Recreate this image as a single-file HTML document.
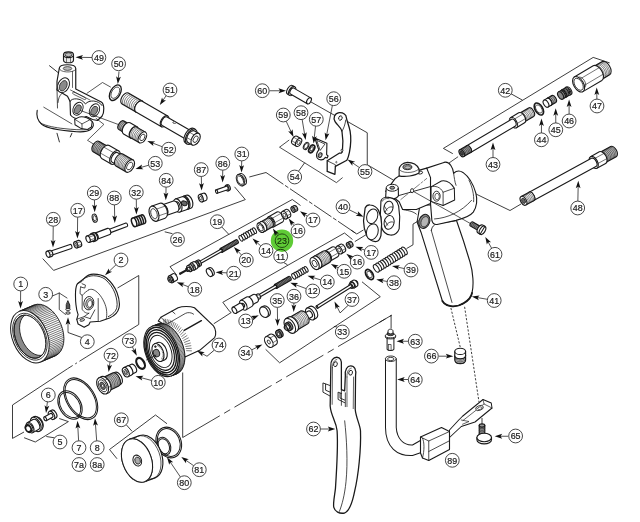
<!DOCTYPE html>
<html><head><meta charset="utf-8"><title>Spray gun exploded parts diagram</title>
<style>
html,body{margin:0;padding:0;background:#fff;}
body{width:640px;height:522px;overflow:hidden;}
svg{display:block;}
svg text{font-family:"Liberation Sans",Arial,sans-serif;font-size:9.4px;fill:#1a1a1a;text-anchor:middle;stroke:#1a1a1a;stroke-width:0.2px;}
</style></head><body>
<svg width="640" height="522" viewBox="0 0 640 522">
<rect width="640" height="522" fill="#fff"/>
<g style="filter:blur(0.35px)">
<path d="M37.2 110.3 C36 116 38 121 42 124.5 C48 129 60 130.5 76.6 131.7 C84 132.2 88 131.5 90.5 129.5 C93.5 127 94.5 124 92.2 121.6" fill="none" stroke="#1a1a1a" stroke-width="1.12" stroke-linejoin="round" stroke-linecap="round" />
<path d="M40.6 123.1 C46 126 56 127.8 64 128.6 C72 129.5 82 130.3 88.5 129.5" fill="none" stroke="#1a1a1a" stroke-width="0.78" stroke-linejoin="round" stroke-linecap="round" />
<path d="M43.75 107.2 L71.9 123.9" fill="none" stroke="#1a1a1a" stroke-width="0.73" stroke-linejoin="round" stroke-linecap="round" />
<path d="M57 133.3 L59.4 141.9 M71.9 133.3 L70.3 136.9" fill="none" stroke="#1a1a1a" stroke-width="0.9" stroke-linejoin="round" stroke-linecap="round" />
<path d="M 57 89 L 57.5 108 M 61.75 93.5 C 59.5 95.5 58.25 98.75 58 102.5" fill="none" stroke="#1a1a1a" stroke-width="0.78" stroke-linejoin="round" stroke-linecap="round" />
<path d="M 49.5 65.75 L 60.5 74.5" fill="none" stroke="#1a1a1a" stroke-width="0.9" stroke-linejoin="round" stroke-linecap="round" />
<path d="M 59.25 68.5 C 59.25 63.5 75.75 63.5 75.75 68.5 L 75.75 89 L 101.25 102 C 104.5 104 104.5 112.5 102 116.25 L 97.5 120.5 L 92.5 119.5 L 86.25 116.5 C 82.5 120 74 119.5 70.5 115 L 70 101.25 L 67.5 96.25 L 57 90 L 57 81.25 Z" fill="#fff" stroke="#1a1a1a" stroke-width="1.18" stroke-linejoin="round" stroke-linecap="round" />
<path d="M 59.25 68.5 C 59.5 72.5 72.5 73.5 75.75 69.5" fill="none" stroke="#1a1a1a" stroke-width="0.67" stroke-linejoin="round" stroke-linecap="round" />
<ellipse cx="67.5" cy="68.5" rx="4.25" ry="1.88" transform="rotate(0 67.5 68.5)" fill="#bbb" stroke="#1a1a1a" stroke-width="0.7"/>
<path d="M 72.5 71.5 L 72.5 87.5" fill="none" stroke="#1a1a1a" stroke-width="0.67" stroke-linejoin="round" stroke-linecap="round" />
<ellipse cx="63.5" cy="85.25" rx="5.5" ry="7.75" transform="rotate(26 63.5 85.25)" fill="#fff" stroke="#1a1a1a" stroke-width="1.0"/>
<ellipse cx="63.25" cy="85.75" rx="3.5" ry="5.5" transform="rotate(26 63.25 85.75)" fill="#8a8a8a" stroke="#1a1a1a" stroke-width="0.7"/>
<path d="M 70.5 90 L 90 100" fill="none" stroke="#1a1a1a" stroke-width="0.67" stroke-linejoin="round" stroke-linecap="round" />
<path d="M 74 92 L 85 97.5 C 86.5 98.5 86 100 84.25 99.5 L 73.5 94.25 C 72 93.25 72.5 91.5 74 92 Z" fill="none" stroke="#1a1a1a" stroke-width="0.67" stroke-linejoin="round" stroke-linecap="round" />
<path d="M 70 101.5 C 71.25 97.5 81.25 97.5 85.5 104 C 88.75 99.5 98.75 100 102 105.5" fill="none" stroke="#1a1a1a" stroke-width="0.95" stroke-linejoin="round" stroke-linecap="round" />
<ellipse cx="78" cy="108.75" rx="4.75" ry="6.75" transform="rotate(26 78 108.75)" fill="#fff" stroke="#1a1a1a" stroke-width="0.9"/>
<ellipse cx="77.75" cy="109.25" rx="3" ry="4.75" transform="rotate(26 77.75 109.25)" fill="#8a8a8a" stroke="#1a1a1a" stroke-width="0.7"/>
<ellipse cx="94.5" cy="110.25" rx="4.75" ry="6.75" transform="rotate(26 94.5 110.25)" fill="#fff" stroke="#1a1a1a" stroke-width="0.9"/>
<ellipse cx="94.25" cy="110.75" rx="3" ry="4.75" transform="rotate(26 94.25 110.75)" fill="#8a8a8a" stroke="#1a1a1a" stroke-width="0.7"/>
<path d="M74.7 119.2 L79.7 116.9 C84 116 90 118.5 92.2 121.6 L91.4 127 L87.5 129.4 L81.25 128.6 L75 124.7 Z" fill="#fff" stroke="#1a1a1a" stroke-width="1.01" stroke-linejoin="round" stroke-linecap="round" />
<path d="M74.7 119.2 L82 123.9 L82 128.6 M82 123.9 L89.5 120" fill="none" stroke="#1a1a1a" stroke-width="0.73" stroke-linejoin="round" stroke-linecap="round" />
<path d="M 87 93.25 L 102.5 82.5 L 110.5 87" fill="none" stroke="#1a1a1a" stroke-width="0.73" stroke-linejoin="round" stroke-linecap="round" />
<path d="M80.5 110.5 L120.5 125.3" fill="none" stroke="#1a1a1a" stroke-width="0.73" stroke-linejoin="round" stroke-linecap="round" />
<path d="M96.1 118.4 L103.9 124.4 L87.5 140.3 L95 145" fill="none" stroke="#1a1a1a" stroke-width="0.73" stroke-linejoin="round" stroke-linecap="round" />
<path d="M63.5 54.7L63.5 59.9A2.88 5 90 0 0 73.5 59.9L73.5 54.7Z" fill="#ececec" stroke="#1a1a1a" stroke-width="1.12" stroke-linejoin="round"/>
<ellipse cx="68.5" cy="54.7" rx="2.88" ry="5" transform="rotate(90 68.5 54.7)" fill="#ececec" stroke="#1a1a1a" stroke-width="1.12"/>
<ellipse cx="68.5" cy="54.7" rx="1.96" ry="3.4" transform="rotate(90 68.5 54.7)" fill="#bdbdbd" stroke="#1a1a1a" stroke-width="0.78"/>
<path d="M66.5 58L66.5 62.5" fill="none" stroke="#1a1a1a" stroke-width="0.56" stroke-linejoin="round"/>
<path d="M70.5 58L70.5 62.5" fill="none" stroke="#1a1a1a" stroke-width="0.56" stroke-linejoin="round"/>
<path d="M92.3 57.5L80.75 57.36" stroke="#1a1a1a" stroke-width="0.75" fill="none"/>
<path d="M75.5 57.3L83.03 54.99L81.35 57.37L82.97 59.79Z" fill="#111"/>
<ellipse cx="115.3" cy="92.7" rx="4.9" ry="8.5" transform="rotate(30 115.3 92.7)" fill="none" stroke="#1a1a1a" stroke-width="1.34"/>
<ellipse cx="115.3" cy="92.7" rx="3.58" ry="6.2" transform="rotate(30 115.3 92.7)" fill="none" stroke="#1a1a1a" stroke-width="0.67"/>
<path d="M119 71.5L118.3 78.77" stroke="#1a1a1a" stroke-width="0.75" fill="none"/>
<path d="M117.8 84L116.13 76.3L118.36 78.18L120.91 76.76Z" fill="#111"/>
<path d="M142.2 101.09L128.34 93.09A3.64 6.3 -150 0 0 122.04 104.01L135.9 112.01Z" fill="#fff" stroke="#1a1a1a" stroke-width="1.12" stroke-linejoin="round"/>
<path d="M142.2 101.09A3.64 6.3 -150 0 0 135.9 112.01" fill="none" stroke="#1a1a1a" stroke-width="0.56"/>
<path d="M140.47 100.09A3.64 6.3 -150 0 0 134.17 111.01" fill="none" stroke="#1a1a1a" stroke-width="0.56"/>
<path d="M138.73 99.09A3.64 6.3 -150 0 0 132.43 110.01" fill="none" stroke="#1a1a1a" stroke-width="0.56"/>
<path d="M137 98.09A3.64 6.3 -150 0 0 130.7 109.01" fill="none" stroke="#1a1a1a" stroke-width="0.56"/>
<path d="M135.27 97.09A3.64 6.3 -150 0 0 128.97 108.01" fill="none" stroke="#1a1a1a" stroke-width="0.56"/>
<path d="M133.54 96.09A3.64 6.3 -150 0 0 127.24 107.01" fill="none" stroke="#1a1a1a" stroke-width="0.56"/>
<path d="M131.81 95.09A3.64 6.3 -150 0 0 125.51 106.01" fill="none" stroke="#1a1a1a" stroke-width="0.56"/>
<path d="M130.07 94.09A3.64 6.3 -150 0 0 123.77 105.01" fill="none" stroke="#1a1a1a" stroke-width="0.56"/>
<ellipse cx="139.05" cy="106.55" rx="3.64" ry="6.3" transform="rotate(-150 139.05 106.55)" fill="#fff" stroke="#1a1a1a" stroke-width="1.12"/>
<path d="M167.7 115.93L142.15 101.18A3.58 6.2 -150 0 0 135.95 111.92L161.5 126.67Z" fill="#fff" stroke="#1a1a1a" stroke-width="1.12" stroke-linejoin="round"/>
<ellipse cx="164.6" cy="121.3" rx="3.58" ry="6.2" transform="rotate(-150 164.6 121.3)" fill="#fff" stroke="#1a1a1a" stroke-width="1.12"/>
<path d="M192.16 131.56L167.05 117.06A2.83 4.9 -150 0 0 162.15 125.54L187.26 140.04Z" fill="#fff" stroke="#1a1a1a" stroke-width="1.12" stroke-linejoin="round"/>
<ellipse cx="189.71" cy="135.8" rx="2.83" ry="4.9" transform="rotate(-150 189.71 135.8)" fill="#fff" stroke="#1a1a1a" stroke-width="1.12"/>
<path d="M195.47 129.43L193.91 128.53A4.85 8.4 -150 0 0 185.51 143.07L187.07 143.97Z" fill="#fff" stroke="#1a1a1a" stroke-width="1.12" stroke-linejoin="round"/>
<ellipse cx="191.27" cy="136.7" rx="4.85" ry="8.4" transform="rotate(-150 191.27 136.7)" fill="#fff" stroke="#1a1a1a" stroke-width="1.12"/>
<path d="M198.9 133.48L194.57 130.98A3.81 6.6 -150 0 0 187.97 142.42L192.3 144.92Z" fill="#fff" stroke="#1a1a1a" stroke-width="1.12" stroke-linejoin="round"/>
<path d="M191.31 140.15L186.98 137.65" stroke="#1a1a1a" stroke-width="0.6" fill="none"/>
<path d="M194.28 135.01L189.95 132.51" stroke="#1a1a1a" stroke-width="0.6" fill="none"/>
<ellipse cx="195.6" cy="139.2" rx="3.81" ry="6.6" transform="rotate(-150 195.6 139.2)" fill="#fff" stroke="#1a1a1a" stroke-width="1.12"/>
<ellipse cx="195.6" cy="139.2" rx="2.08" ry="3.6" transform="rotate(-150 195.6 139.2)" fill="#fff" stroke="#1a1a1a" stroke-width="0.78"/>
<ellipse cx="174.5" cy="122.5" rx="0.92" ry="1.6" transform="rotate(-90 174.5 122.5)" fill="#fff" stroke="#1a1a1a" stroke-width="0.78"/>
<path d="M166.18 95.62L162.75 100.66" stroke="#1a1a1a" stroke-width="0.75" fill="none"/>
<path d="M159.8 105L162.03 97.45L163.09 100.16L166 100.15Z" fill="#111"/>
<path d="M129.31 124.07L123.94 120.97A2.88 5 -150 0 0 118.94 129.63L124.31 132.73Z" fill="#bbb" stroke="#1a1a1a" stroke-width="1.12" stroke-linejoin="round"/>
<path d="M129.31 124.07A2.88 5 -150 0 0 124.31 132.73" fill="none" stroke="#1a1a1a" stroke-width="0.56"/>
<path d="M127.97 123.29A2.88 5 -150 0 0 122.97 131.96" fill="none" stroke="#1a1a1a" stroke-width="0.56"/>
<path d="M126.63 122.52A2.88 5 -150 0 0 121.63 131.18" fill="none" stroke="#1a1a1a" stroke-width="0.56"/>
<path d="M125.28 121.74A2.88 5 -150 0 0 120.28 130.41" fill="none" stroke="#1a1a1a" stroke-width="0.56"/>
<ellipse cx="126.81" cy="128.4" rx="2.88" ry="5" transform="rotate(-150 126.81 128.4)" fill="#bbb" stroke="#1a1a1a" stroke-width="1.12"/>
<path d="M136.99 126.77L130.06 122.77A3.75 6.5 -150 0 0 123.56 134.03L130.49 138.03Z" fill="#fff" stroke="#1a1a1a" stroke-width="1.12" stroke-linejoin="round"/>
<ellipse cx="133.74" cy="132.4" rx="3.75" ry="6.5" transform="rotate(-150 133.74 132.4)" fill="#fff" stroke="#1a1a1a" stroke-width="1.12"/>
<path d="M145.45 132.12L136.79 127.12A3.52 6.1 -150 0 0 130.69 137.68L139.35 142.68Z" fill="#fff" stroke="#1a1a1a" stroke-width="1.12" stroke-linejoin="round"/>
<path d="M145.45 132.12A3.52 6.1 -150 0 0 139.35 142.68" fill="none" stroke="#1a1a1a" stroke-width="0.56"/>
<path d="M144.01 131.28A3.52 6.1 -150 0 0 137.91 141.85" fill="none" stroke="#1a1a1a" stroke-width="0.56"/>
<path d="M142.56 130.45A3.52 6.1 -150 0 0 136.46 141.02" fill="none" stroke="#1a1a1a" stroke-width="0.56"/>
<path d="M141.12 129.62A3.52 6.1 -150 0 0 135.02 140.18" fill="none" stroke="#1a1a1a" stroke-width="0.56"/>
<path d="M139.68 128.78A3.52 6.1 -150 0 0 133.58 139.35" fill="none" stroke="#1a1a1a" stroke-width="0.56"/>
<path d="M138.23 127.95A3.52 6.1 -150 0 0 132.13 138.52" fill="none" stroke="#1a1a1a" stroke-width="0.56"/>
<ellipse cx="142.4" cy="137.4" rx="3.52" ry="6.1" transform="rotate(-150 142.4 137.4)" fill="#fff" stroke="#1a1a1a" stroke-width="1.12"/>
<ellipse cx="142.4" cy="137.4" rx="2.08" ry="3.6" transform="rotate(-150 142.4 137.4)" fill="#fff" stroke="#1a1a1a" stroke-width="0.78"/>
<path d="M162.35 146.77L152.2 142.88" stroke="#1a1a1a" stroke-width="0.75" fill="none"/>
<path d="M147.3 141L155.16 141.44L152.76 143.09L153.44 145.92Z" fill="#111"/>
<path d="M108.45 146.8L99.1 141.4A3.46 6 -150 0 0 93.1 151.8L102.45 157.2Z" fill="#bbb" stroke="#1a1a1a" stroke-width="1.12" stroke-linejoin="round"/>
<path d="M108.45 146.8A3.46 6 -150 0 0 102.45 157.2" fill="none" stroke="#1a1a1a" stroke-width="0.56"/>
<path d="M107.12 146.03A3.46 6 -150 0 0 101.12 156.42" fill="none" stroke="#1a1a1a" stroke-width="0.56"/>
<path d="M105.78 145.26A3.46 6 -150 0 0 99.78 155.65" fill="none" stroke="#1a1a1a" stroke-width="0.56"/>
<path d="M104.44 144.49A3.46 6 -150 0 0 98.44 154.88" fill="none" stroke="#1a1a1a" stroke-width="0.56"/>
<path d="M103.11 143.72A3.46 6 -150 0 0 97.11 154.11" fill="none" stroke="#1a1a1a" stroke-width="0.56"/>
<path d="M101.77 142.95A3.46 6 -150 0 0 95.77 153.34" fill="none" stroke="#1a1a1a" stroke-width="0.56"/>
<path d="M100.43 142.18A3.46 6 -150 0 0 94.43 152.57" fill="none" stroke="#1a1a1a" stroke-width="0.56"/>
<ellipse cx="105.45" cy="152" rx="3.46" ry="6" transform="rotate(-150 105.45 152)" fill="#bbb" stroke="#1a1a1a" stroke-width="1.12"/>
<path d="M118.78 150.92L109.25 145.42A4.39 7.6 -150 0 0 101.65 158.58L111.18 164.08Z" fill="#fff" stroke="#1a1a1a" stroke-width="1.12" stroke-linejoin="round"/>
<path d="M110.04 158.6L100.51 153.1" stroke="#1a1a1a" stroke-width="0.6" fill="none"/>
<path d="M113.46 152.67L103.93 147.17" stroke="#1a1a1a" stroke-width="0.6" fill="none"/>
<ellipse cx="114.98" cy="157.5" rx="4.39" ry="7.6" transform="rotate(-150 114.98 157.5)" fill="#fff" stroke="#1a1a1a" stroke-width="1.12"/>
<path d="M122.06 155.24L117.73 152.74A3.17 5.5 -150 0 0 112.23 162.26L116.56 164.76Z" fill="#fff" stroke="#1a1a1a" stroke-width="1.12" stroke-linejoin="round"/>
<ellipse cx="119.31" cy="160" rx="3.17" ry="5.5" transform="rotate(-150 119.31 160)" fill="#fff" stroke="#1a1a1a" stroke-width="1.12"/>
<path d="M133.15 160.02L122.76 154.02A3.98 6.9 -150 0 0 115.86 165.98L126.25 171.98Z" fill="#fff" stroke="#1a1a1a" stroke-width="1.12" stroke-linejoin="round"/>
<path d="M133.15 160.02A3.98 6.9 -150 0 0 126.25 171.98" fill="none" stroke="#1a1a1a" stroke-width="0.56"/>
<path d="M131.85 159.27A3.98 6.9 -150 0 0 124.95 171.23" fill="none" stroke="#1a1a1a" stroke-width="0.56"/>
<path d="M130.55 158.52A3.98 6.9 -150 0 0 123.65 170.48" fill="none" stroke="#1a1a1a" stroke-width="0.56"/>
<path d="M129.25 157.77A3.98 6.9 -150 0 0 122.35 169.73" fill="none" stroke="#1a1a1a" stroke-width="0.56"/>
<path d="M127.95 157.02A3.98 6.9 -150 0 0 121.05 168.98" fill="none" stroke="#1a1a1a" stroke-width="0.56"/>
<path d="M126.65 156.27A3.98 6.9 -150 0 0 119.75 168.23" fill="none" stroke="#1a1a1a" stroke-width="0.56"/>
<path d="M125.36 155.52A3.98 6.9 -150 0 0 118.46 167.48" fill="none" stroke="#1a1a1a" stroke-width="0.56"/>
<path d="M124.06 154.77A3.98 6.9 -150 0 0 117.16 166.73" fill="none" stroke="#1a1a1a" stroke-width="0.56"/>
<ellipse cx="129.7" cy="166" rx="3.98" ry="6.9" transform="rotate(-150 129.7 166)" fill="#fff" stroke="#1a1a1a" stroke-width="1.12"/>
<ellipse cx="129.7" cy="166" rx="2.42" ry="4.2" transform="rotate(-150 129.7 166)" fill="#fff" stroke="#1a1a1a" stroke-width="0.78"/>
<path d="M148.77 165.18L140.55 167.55" stroke="#1a1a1a" stroke-width="0.75" fill="none"/>
<path d="M135.5 169L142.04 164.62L141.12 167.38L143.37 169.23Z" fill="#111"/>
<path d="M 311.26 102.13 L 337.51 117 M 344.51 119.85 L 367.26 132.76 L 367.26 164.7 L 393.95 180.45" fill="none" stroke="#1a1a1a" stroke-width="0.84" stroke-linejoin="round" stroke-linecap="round" />
<path d="M294.61 86.72L292.71 85.62A2.88 5 -150 0 0 287.71 94.28L289.61 95.38Z" fill="#fff" stroke="#1a1a1a" stroke-width="1.12" stroke-linejoin="round"/>
<ellipse cx="292.11" cy="91.05" rx="2.88" ry="5" transform="rotate(-150 292.11 91.05)" fill="#fff" stroke="#1a1a1a" stroke-width="1.12"/>
<path d="M310.7 97.86L293.81 88.11A1.96 3.4 -150 0 0 290.41 93.99L307.3 103.74Z" fill="#fff" stroke="#1a1a1a" stroke-width="1.12" stroke-linejoin="round"/>
<ellipse cx="309" cy="100.8" rx="1.96" ry="3.4" transform="rotate(-150 309 100.8)" fill="#fff" stroke="#1a1a1a" stroke-width="1.12"/>
<path d="M269.5 90.75L280.75 90.75" stroke="#1a1a1a" stroke-width="0.75" fill="none"/>
<path d="M286 90.75L278.5 93.15L280.15 90.75L278.5 88.35Z" fill="#111"/>
<path d="M 335.07 121.69 C 332.82 117.89 334.51 113.25 339.15 112.69 C 343.37 112.41 346.32 114.66 346.32 117.47 C 346.6 120 348.99 125.63 350.12 131.25 C 351.1 136.88 350.54 146.72 349.42 152.35 C 348.57 156.57 347.73 158.68 346.88 160.23 L 335.35 166.41 L 334.93 174.29 L 327.19 171.48 L 327.19 160.79 L 339.15 153.19 L 341.26 153.19 L 342.38 151.79 C 342.95 146.72 342.95 136.88 341.96 131.25 C 340.98 127.03 337.32 125.34 335.07 121.69 Z" fill="#fff" stroke="#1a1a1a" stroke-width="1.29" stroke-linejoin="round" stroke-linecap="round" />
<path d="M 327.19 160.79 L 335.35 164.73 L 335.35 166.41 M 341.96 131.25 C 343.79 128.44 345.2 124.22 345.76 120" fill="none" stroke="#1a1a1a" stroke-width="0.78" stroke-linejoin="round" stroke-linecap="round" />
<ellipse cx="340.41" cy="118.03" rx="1.69" ry="2.25" transform="rotate(20 340.41 118.03)" fill="#fff" stroke="#1a1a1a" stroke-width="0.9"/>
<ellipse cx="341.96" cy="150.38" rx="0.98" ry="1.13" transform="rotate(0 341.96 150.38)" fill="#fff" stroke="#1a1a1a" stroke-width="0.8"/>
<ellipse cx="336.34" cy="162.19" rx="0.56" ry="0.84" transform="rotate(0 336.34 162.19)" fill="#fff" stroke="#1a1a1a" stroke-width="0.6"/>
<path d="M359.42 167.62L351.91 162.4" stroke="#1a1a1a" stroke-width="0.75" fill="none"/>
<path d="M347.6 159.4L355.13 161.71L352.4 162.74L352.39 165.65Z" fill="#111"/>
<path d="M 288.94 140.19 L 279.53 147.19 L 336.41 182.64 L 342.32 177.82" fill="none" stroke="#1a1a1a" stroke-width="0.78" stroke-linejoin="round" stroke-linecap="round" />
<path d="M298.7 171L304.7 162.7" fill="none" stroke="#1a1a1a" stroke-width="0.84" stroke-linejoin="round"/>
<path d="M300.8 138.59L296.9 136.34A2.54 4.4 -150 0 0 292.5 143.96L296.4 146.21Z" fill="#fff" stroke="#1a1a1a" stroke-width="1.12" stroke-linejoin="round"/>
<path d="M295.74 143.04L291.84 140.79" stroke="#1a1a1a" stroke-width="0.6" fill="none"/>
<path d="M297.72 139.61L293.82 137.36" stroke="#1a1a1a" stroke-width="0.6" fill="none"/>
<ellipse cx="298.6" cy="142.4" rx="2.54" ry="4.4" transform="rotate(-150 298.6 142.4)" fill="#fff" stroke="#1a1a1a" stroke-width="1.12"/>
<ellipse cx="298.6" cy="142.4" rx="1.33" ry="2.3" transform="rotate(-150 298.6 142.4)" fill="#fff" stroke="#1a1a1a" stroke-width="0.78"/>
<path d="M286.16 121.17L291.29 132.24" stroke="#1a1a1a" stroke-width="0.75" fill="none"/>
<path d="M293.5 137L288.17 131.21L291.04 131.69L292.52 129.19Z" fill="#111"/>
<ellipse cx="306.1" cy="146" rx="2.25" ry="3.9" transform="rotate(30 306.1 146)" fill="none" stroke="#1a1a1a" stroke-width="1.01"/>
<ellipse cx="306.1" cy="146" rx="1.62" ry="2.8" transform="rotate(30 306.1 146)" fill="none" stroke="#1a1a1a" stroke-width="0.67"/>
<path d="M302.13 119.41L304.73 134.82" stroke="#1a1a1a" stroke-width="0.75" fill="none"/>
<path d="M305.6 140L301.99 133L304.63 134.23L306.72 132.21Z" fill="#111"/>
<ellipse cx="311.7" cy="148.8" rx="2.42" ry="4.2" transform="rotate(30 311.7 148.8)" fill="none" stroke="#1a1a1a" stroke-width="1.79"/>
<ellipse cx="311.7" cy="148.8" rx="1.33" ry="2.3" transform="rotate(30 311.7 148.8)" fill="none" stroke="#1a1a1a" stroke-width="0.78"/>
<path d="M315.55 126.06L314.18 138.28" stroke="#1a1a1a" stroke-width="0.75" fill="none"/>
<path d="M313.6 143.5L312.05 135.78L314.25 137.69L316.82 136.31Z" fill="#111"/>
<path d="M 314.82 138 L 326.91 143.21 L 326.63 154.6 L 328.04 156.01 L 327.19 157.97 L 325.23 157.41 C 323.68 160.51 318.76 160.79 317.07 157.69 C 315.94 155.16 317.35 151.65 318.76 149.82 Z" fill="#fff" stroke="#1a1a1a" stroke-width="1.12" stroke-linejoin="round" stroke-linecap="round" />
<path d="M 317.07 140.53 L 324.94 144.05 L 320.44 150.1 Z" fill="none" stroke="#1a1a1a" stroke-width="0.78" stroke-linejoin="round" stroke-linecap="round" />
<ellipse cx="320.16" cy="155.16" rx="1.83" ry="2.39" transform="rotate(25 320.16 155.16)" fill="none" stroke="#1a1a1a" stroke-width="0.9"/>
<ellipse cx="320.3" cy="155.3" rx="0.98" ry="1.41" transform="rotate(25 320.3 155.3)" fill="none" stroke="#1a1a1a" stroke-width="0.6"/>
<path d="M332.4 105.37L326.6 135.15" stroke="#1a1a1a" stroke-width="0.75" fill="none"/>
<path d="M325.6 140.3L324.68 132.48L326.72 134.56L329.39 133.4Z" fill="#111"/>
<path d="M452.8 153.7L443.4 148.4L593.2 57.4L609.7 62.9" fill="none" stroke="#1a1a1a" stroke-width="0.84" stroke-linejoin="round"/>
<path d="M510.9 93.7L522.5 100.2" fill="none" stroke="#1a1a1a" stroke-width="0.84" stroke-linejoin="round"/>
<path d="M524.18 122.14L533.64 116.54A2.88 5 -30.58 0 0 528.56 107.94L519.09 113.53Z" fill="#fff" stroke="#1a1a1a" stroke-width="1.12" stroke-linejoin="round"/>
<path d="M524.18 122.14A2.88 5 -30.58 0 0 519.09 113.53" fill="none" stroke="#1a1a1a" stroke-width="0.56"/>
<path d="M525.53 121.34A2.88 5 -30.58 0 0 520.44 112.73" fill="none" stroke="#1a1a1a" stroke-width="0.56"/>
<path d="M526.88 120.54A2.88 5 -30.58 0 0 521.79 111.93" fill="none" stroke="#1a1a1a" stroke-width="0.56"/>
<path d="M528.23 119.74A2.88 5 -30.58 0 0 523.15 111.13" fill="none" stroke="#1a1a1a" stroke-width="0.56"/>
<path d="M529.59 118.94A2.88 5 -30.58 0 0 524.5 110.33" fill="none" stroke="#1a1a1a" stroke-width="0.56"/>
<path d="M530.94 118.14A2.88 5 -30.58 0 0 525.85 109.54" fill="none" stroke="#1a1a1a" stroke-width="0.56"/>
<path d="M532.29 117.34A2.88 5 -30.58 0 0 527.2 108.74" fill="none" stroke="#1a1a1a" stroke-width="0.56"/>
<ellipse cx="521.63" cy="117.84" rx="2.88" ry="5" transform="rotate(-30.58 521.63 117.84)" fill="#fff" stroke="#1a1a1a" stroke-width="1.12"/>
<path d="M516.4 127.66L524.58 122.83A3.35 5.8 -30.58 0 0 518.68 112.84L510.5 117.68Z" fill="#fff" stroke="#1a1a1a" stroke-width="1.12" stroke-linejoin="round"/>
<path d="M514.57 118.98L522.75 114.14" stroke="#1a1a1a" stroke-width="0.6" fill="none"/>
<path d="M517.23 123.47L525.41 118.64" stroke="#1a1a1a" stroke-width="0.6" fill="none"/>
<ellipse cx="513.45" cy="122.67" rx="3.35" ry="5.8" transform="rotate(-30.58 513.45 122.67)" fill="#fff" stroke="#1a1a1a" stroke-width="1.12"/>
<path d="M470.67 152.49L515.44 126.03A2.25 3.9 -30.58 0 0 511.47 119.31L466.7 145.77Z" fill="#fff" stroke="#1a1a1a" stroke-width="1.12" stroke-linejoin="round"/>
<ellipse cx="468.69" cy="149.13" rx="2.25" ry="3.9" transform="rotate(-30.58 468.69 149.13)" fill="#fff" stroke="#1a1a1a" stroke-width="1.12"/>
<path d="M463.78 156.56L470.67 152.49A2.25 3.9 -30.58 0 0 466.7 145.77L459.82 149.84Z" fill="#999" stroke="#1a1a1a" stroke-width="1.12" stroke-linejoin="round"/>
<path d="M463.78 156.56A2.25 3.9 -30.58 0 0 459.82 149.84" fill="none" stroke="#1a1a1a" stroke-width="0.56"/>
<path d="M465.16 155.74A2.25 3.9 -30.58 0 0 461.19 149.03" fill="none" stroke="#1a1a1a" stroke-width="0.56"/>
<path d="M466.54 154.93A2.25 3.9 -30.58 0 0 462.57 148.21" fill="none" stroke="#1a1a1a" stroke-width="0.56"/>
<path d="M467.92 154.12A2.25 3.9 -30.58 0 0 463.95 147.4" fill="none" stroke="#1a1a1a" stroke-width="0.56"/>
<path d="M469.29 153.3A2.25 3.9 -30.58 0 0 465.33 146.59" fill="none" stroke="#1a1a1a" stroke-width="0.56"/>
<ellipse cx="461.8" cy="153.2" rx="2.25" ry="3.9" transform="rotate(-30.58 461.8 153.2)" fill="#999" stroke="#1a1a1a" stroke-width="1.12"/>
<ellipse cx="461.8" cy="153.2" rx="1.27" ry="2.2" transform="rotate(-30.58 461.8 153.2)" fill="#444" stroke="#1a1a1a" stroke-width="0.78"/>
<path d="M493 157.6L493 147.85" stroke="#1a1a1a" stroke-width="0.75" fill="none"/>
<path d="M493 142.6L495.4 150.1L493 148.45L490.6 150.1Z" fill="#111"/>
<ellipse cx="538.9" cy="109" rx="3.81" ry="6.6" transform="rotate(-30.58 538.9 109)" fill="none" stroke="#1a1a1a" stroke-width="1.68"/>
<ellipse cx="538.9" cy="109" rx="2.65" ry="4.6" transform="rotate(-30.58 538.9 109)" fill="none" stroke="#1a1a1a" stroke-width="0.67"/>
<path d="M541.43 133L541.48 123.75" stroke="#1a1a1a" stroke-width="0.75" fill="none"/>
<path d="M541.5 118.5L543.86 126.01L541.47 124.35L539.06 125.99Z" fill="#111"/>
<path d="M551.05 105.26L555.78 102.46A2.31 4 -30.58 0 0 551.71 95.58L546.98 98.38Z" fill="#aaa" stroke="#1a1a1a" stroke-width="1.12" stroke-linejoin="round"/>
<path d="M551.05 105.26A2.31 4 -30.58 0 0 546.98 98.38" fill="none" stroke="#1a1a1a" stroke-width="0.56"/>
<path d="M552.63 104.33A2.31 4 -30.58 0 0 548.56 97.44" fill="none" stroke="#1a1a1a" stroke-width="0.56"/>
<path d="M554.2 103.4A2.31 4 -30.58 0 0 550.13 96.51" fill="none" stroke="#1a1a1a" stroke-width="0.56"/>
<ellipse cx="549.01" cy="101.82" rx="2.31" ry="4" transform="rotate(-30.58 549.01 101.82)" fill="#aaa" stroke="#1a1a1a" stroke-width="1.12"/>
<path d="M548.04 107.04L551.05 105.26A2.31 4 -30.58 0 0 546.98 98.38L543.96 100.16Z" fill="#fff" stroke="#1a1a1a" stroke-width="1.12" stroke-linejoin="round"/>
<ellipse cx="546" cy="103.6" rx="2.31" ry="4" transform="rotate(-30.58 546 103.6)" fill="#fff" stroke="#1a1a1a" stroke-width="1.12"/>
<path d="M555.77 123L555.72 113.45" stroke="#1a1a1a" stroke-width="0.75" fill="none"/>
<path d="M555.7 108.2L558.13 115.69L555.73 114.05L553.33 115.71Z" fill="#111"/>
<path d="M569.9 95.12L570.93 94.51A2.54 4.4 -30.58 0 0 566.45 86.93L565.42 87.54Z" fill="#fff" stroke="#1a1a1a" stroke-width="1.12" stroke-linejoin="round"/>
<ellipse cx="567.66" cy="91.33" rx="2.54" ry="4.4" transform="rotate(-30.58 567.66 91.33)" fill="#fff" stroke="#1a1a1a" stroke-width="1.12"/>
<path d="M567.36 94.76L569.08 93.74A1.62 2.8 -30.58 0 0 566.23 88.92L564.51 89.93Z" fill="#fff" stroke="#1a1a1a" stroke-width="1.12" stroke-linejoin="round"/>
<ellipse cx="565.94" cy="92.35" rx="1.62" ry="2.8" transform="rotate(-30.58 565.94 92.35)" fill="#fff" stroke="#1a1a1a" stroke-width="1.12"/>
<path d="M565.84 97.28L568.07 95.96A2.42 4.2 -30.58 0 0 563.8 88.73L561.56 90.05Z" fill="#999" stroke="#1a1a1a" stroke-width="1.12" stroke-linejoin="round"/>
<path d="M565.84 97.28A2.42 4.2 -30.58 0 0 561.56 90.05" fill="none" stroke="#1a1a1a" stroke-width="0.56"/>
<path d="M566.96 96.62A2.42 4.2 -30.58 0 0 562.68 89.39" fill="none" stroke="#1a1a1a" stroke-width="0.56"/>
<ellipse cx="563.7" cy="93.67" rx="2.42" ry="4.2" transform="rotate(-30.58 563.7 93.67)" fill="#999" stroke="#1a1a1a" stroke-width="1.12"/>
<path d="M563.95 97.24L565.33 96.42A1.85 3.2 -30.58 0 0 562.07 90.91L560.69 91.73Z" fill="#fff" stroke="#1a1a1a" stroke-width="1.12" stroke-linejoin="round"/>
<ellipse cx="562.32" cy="94.48" rx="1.85" ry="3.2" transform="rotate(-30.58 562.32 94.48)" fill="#fff" stroke="#1a1a1a" stroke-width="1.12"/>
<path d="M562.74 99.12L564.46 98.1A2.42 4.2 -30.58 0 0 560.18 90.87L558.46 91.88Z" fill="#888" stroke="#1a1a1a" stroke-width="1.12" stroke-linejoin="round"/>
<ellipse cx="560.6" cy="95.5" rx="2.42" ry="4.2" transform="rotate(-30.58 560.6 95.5)" fill="#888" stroke="#1a1a1a" stroke-width="1.12"/>
<path d="M569.1 114.2L569.1 104.75" stroke="#1a1a1a" stroke-width="0.75" fill="none"/>
<path d="M569.1 99.5L571.5 107L569.1 105.35L566.7 107Z" fill="#111"/>
<path d="M601.41 79.65L609.58 74.82A4.39 7.6 -30.58 0 0 601.85 61.73L593.67 66.56Z" fill="#fff" stroke="#1a1a1a" stroke-width="1.12" stroke-linejoin="round"/>
<path d="M601.41 79.65A4.39 7.6 -30.58 0 0 593.67 66.56" fill="none" stroke="#1a1a1a" stroke-width="0.56"/>
<path d="M602.77 78.84A4.39 7.6 -30.58 0 0 595.04 65.76" fill="none" stroke="#1a1a1a" stroke-width="0.56"/>
<path d="M604.13 78.04A4.39 7.6 -30.58 0 0 596.4 64.95" fill="none" stroke="#1a1a1a" stroke-width="0.56"/>
<path d="M605.5 77.23A4.39 7.6 -30.58 0 0 597.76 64.15" fill="none" stroke="#1a1a1a" stroke-width="0.56"/>
<path d="M606.86 76.43A4.39 7.6 -30.58 0 0 599.12 63.34" fill="none" stroke="#1a1a1a" stroke-width="0.56"/>
<path d="M608.22 75.62A4.39 7.6 -30.58 0 0 600.49 62.54" fill="none" stroke="#1a1a1a" stroke-width="0.56"/>
<ellipse cx="597.54" cy="73.11" rx="4.39" ry="7.6" transform="rotate(-30.58 597.54 73.11)" fill="#fff" stroke="#1a1a1a" stroke-width="1.12"/>
<path d="M582.92 91.62L601.86 80.42A4.9 8.5 -30.58 0 0 593.21 65.79L574.28 76.98Z" fill="#fff" stroke="#1a1a1a" stroke-width="1.12" stroke-linejoin="round"/>
<path d="M580.24 78.89L599.18 67.69" stroke="#1a1a1a" stroke-width="0.6" fill="none"/>
<path d="M584.14 85.47L603.07 74.28" stroke="#1a1a1a" stroke-width="0.6" fill="none"/>
<ellipse cx="578.6" cy="84.3" rx="4.9" ry="8.5" transform="rotate(-30.58 578.6 84.3)" fill="#fff" stroke="#1a1a1a" stroke-width="1.12"/>
<ellipse cx="578.6" cy="84.3" rx="3.81" ry="6.6" transform="rotate(-30.58 578.6 84.3)" fill="#fff" stroke="#1a1a1a" stroke-width="0.78"/>
<path d="M584.55 87.67A3.46 6 -30.58 0 0 578.45 77.33" fill="none" stroke="#1a1a1a" stroke-width="0.67"/>
<path d="M596.89 99.2L596.79 92.75" stroke="#1a1a1a" stroke-width="0.75" fill="none"/>
<path d="M596.7 87.5L599.22 94.96L596.79 93.35L594.42 95.04Z" fill="#111"/>
<path d="M605.26 162.73L616.22 156.73A3.35 5.8 -28.66 0 0 610.66 146.55L599.69 152.55Z" fill="#bbb" stroke="#1a1a1a" stroke-width="1.12" stroke-linejoin="round"/>
<path d="M605.26 162.73A3.35 5.8 -28.66 0 0 599.69 152.55" fill="none" stroke="#1a1a1a" stroke-width="0.56"/>
<path d="M606.63 161.98A3.35 5.8 -28.66 0 0 601.06 151.8" fill="none" stroke="#1a1a1a" stroke-width="0.56"/>
<path d="M608 161.23A3.35 5.8 -28.66 0 0 602.43 151.05" fill="none" stroke="#1a1a1a" stroke-width="0.56"/>
<path d="M609.37 160.48A3.35 5.8 -28.66 0 0 603.81 150.3" fill="none" stroke="#1a1a1a" stroke-width="0.56"/>
<path d="M610.74 159.73A3.35 5.8 -28.66 0 0 605.18 149.55" fill="none" stroke="#1a1a1a" stroke-width="0.56"/>
<path d="M612.11 158.98A3.35 5.8 -28.66 0 0 606.55 148.8" fill="none" stroke="#1a1a1a" stroke-width="0.56"/>
<path d="M613.48 158.23A3.35 5.8 -28.66 0 0 607.92 148.05" fill="none" stroke="#1a1a1a" stroke-width="0.56"/>
<path d="M614.85 157.48A3.35 5.8 -28.66 0 0 609.29 147.3" fill="none" stroke="#1a1a1a" stroke-width="0.56"/>
<ellipse cx="602.47" cy="157.64" rx="3.35" ry="5.8" transform="rotate(-28.66 602.47 157.64)" fill="#bbb" stroke="#1a1a1a" stroke-width="1.12"/>
<path d="M596.86 168.22L605.64 163.43A3.81 6.6 -28.66 0 0 599.31 151.84L590.53 156.64Z" fill="#fff" stroke="#1a1a1a" stroke-width="1.12" stroke-linejoin="round"/>
<path d="M595.11 158.27L603.89 153.48" stroke="#1a1a1a" stroke-width="0.6" fill="none"/>
<path d="M597.96 163.49L606.74 158.69" stroke="#1a1a1a" stroke-width="0.6" fill="none"/>
<ellipse cx="593.7" cy="162.43" rx="3.81" ry="6.6" transform="rotate(-28.66 593.7 162.43)" fill="#fff" stroke="#1a1a1a" stroke-width="1.12"/>
<path d="M533.65 200.61L595.95 166.56A2.71 4.7 -28.66 0 0 591.44 158.31L529.14 192.36Z" fill="#fff" stroke="#1a1a1a" stroke-width="1.12" stroke-linejoin="round"/>
<ellipse cx="531.4" cy="196.48" rx="2.71" ry="4.7" transform="rotate(-28.66 531.4 196.48)" fill="#fff" stroke="#1a1a1a" stroke-width="1.12"/>
<path d="M525.8 205.01L533.7 200.7A2.77 4.8 -28.66 0 0 529.1 192.27L521.2 196.59Z" fill="#fff" stroke="#1a1a1a" stroke-width="1.12" stroke-linejoin="round"/>
<path d="M525.8 205.01A2.77 4.8 -28.66 0 0 521.2 196.59" fill="none" stroke="#1a1a1a" stroke-width="0.56"/>
<path d="M527.12 204.29A2.77 4.8 -28.66 0 0 522.51 195.87" fill="none" stroke="#1a1a1a" stroke-width="0.56"/>
<path d="M528.43 203.57A2.77 4.8 -28.66 0 0 523.83 195.15" fill="none" stroke="#1a1a1a" stroke-width="0.56"/>
<path d="M529.75 202.85A2.77 4.8 -28.66 0 0 525.15 194.43" fill="none" stroke="#1a1a1a" stroke-width="0.56"/>
<path d="M531.07 202.13A2.77 4.8 -28.66 0 0 526.46 193.71" fill="none" stroke="#1a1a1a" stroke-width="0.56"/>
<path d="M532.38 201.41A2.77 4.8 -28.66 0 0 527.78 192.99" fill="none" stroke="#1a1a1a" stroke-width="0.56"/>
<ellipse cx="523.5" cy="200.8" rx="2.77" ry="4.8" transform="rotate(-28.66 523.5 200.8)" fill="#fff" stroke="#1a1a1a" stroke-width="1.12"/>
<ellipse cx="523.5" cy="200.8" rx="1.62" ry="2.8" transform="rotate(-28.66 523.5 200.8)" fill="#666" stroke="#1a1a1a" stroke-width="0.78"/>
<path d="M577.85 201.2L578.18 185.95" stroke="#1a1a1a" stroke-width="0.75" fill="none"/>
<path d="M578.3 180.7L580.53 188.25L578.17 186.55L575.74 188.15Z" fill="#111"/>
<path d="M459 185.75L510 210.5L521 204" fill="none" stroke="#1a1a1a" stroke-width="0.84" stroke-linejoin="round"/>
<path d="M42.7 258.6L53.6 270.4L245.3 199.6L234.5 186.8" fill="none" stroke="#1a1a1a" stroke-width="0.84" stroke-linejoin="round"/>
<path d="M172.5 233.7L164.7 231.8" fill="none" stroke="#1a1a1a" stroke-width="0.84" stroke-linejoin="round"/>
<path d="M51.52 255.31L71.38 248.47A1.21 2.1 -19 0 0 70.01 244.5L50.15 251.34Z" fill="#fff" stroke="#1a1a1a" stroke-width="1.12" stroke-linejoin="round"/>
<ellipse cx="50.84" cy="253.32" rx="1.21" ry="2.1" transform="rotate(-19 50.84 253.32)" fill="#fff" stroke="#1a1a1a" stroke-width="1.12"/>
<path d="M49.04 257.33L51.88 256.35A1.85 3.2 -19 0 0 49.79 250.3L46.96 251.27Z" fill="#fff" stroke="#1a1a1a" stroke-width="1.12" stroke-linejoin="round"/>
<path d="M49.02 252.43L51.85 251.45" stroke="#1a1a1a" stroke-width="0.6" fill="none"/>
<path d="M49.95 255.15L52.79 254.17" stroke="#1a1a1a" stroke-width="0.6" fill="none"/>
<ellipse cx="48" cy="254.3" rx="1.85" ry="3.2" transform="rotate(-19 48 254.3)" fill="#fff" stroke="#1a1a1a" stroke-width="1.12"/>
<path d="M53.23 226.1L53.06 242.25" stroke="#1a1a1a" stroke-width="0.75" fill="none"/>
<path d="M53 247.5L50.68 239.97L53.06 241.65L55.48 240.03Z" fill="#111"/>
<path d="M76.87 247.92L80.66 246.62A1.9 3.3 -19 0 0 78.51 240.38L74.73 241.68Z" fill="#fff" stroke="#1a1a1a" stroke-width="1.12" stroke-linejoin="round"/>
<path d="M76.85 242.87L80.63 241.57" stroke="#1a1a1a" stroke-width="0.6" fill="none"/>
<path d="M77.81 245.68L81.6 244.37" stroke="#1a1a1a" stroke-width="0.6" fill="none"/>
<ellipse cx="75.8" cy="244.8" rx="1.9" ry="3.3" transform="rotate(-19 75.8 244.8)" fill="#fff" stroke="#1a1a1a" stroke-width="1.12"/>
<ellipse cx="75.8" cy="244.8" rx="0.92" ry="1.6" transform="rotate(-19 75.8 244.8)" fill="#fff" stroke="#1a1a1a" stroke-width="0.78"/>
<path d="M77.63 217.1L77.46 233.35" stroke="#1a1a1a" stroke-width="0.75" fill="none"/>
<path d="M77.4 238.6L75.08 231.07L77.46 232.75L79.88 231.13Z" fill="#111"/>
<ellipse cx="94.7" cy="218.2" rx="2.42" ry="4.2" transform="rotate(-14 94.7 218.2)" fill="none" stroke="#1a1a1a" stroke-width="1.01"/>
<ellipse cx="94.7" cy="218.2" rx="1.56" ry="2.7" transform="rotate(-14 94.7 218.2)" fill="none" stroke="#1a1a1a" stroke-width="0.78"/>
<path d="M94.44 199.8L94.59 206.95" stroke="#1a1a1a" stroke-width="0.75" fill="none"/>
<path d="M94.7 212.2L92.14 204.75L94.58 206.35L96.94 204.65Z" fill="#111"/>
<path d="M109.33 233.14L127.11 226.46A1.04 1.8 -20.6 0 0 125.85 223.09L108.06 229.77Z" fill="#fff" stroke="#1a1a1a" stroke-width="1.12" stroke-linejoin="round"/>
<ellipse cx="108.69" cy="231.46" rx="1.04" ry="1.8" transform="rotate(-20.6 108.69 231.46)" fill="#fff" stroke="#1a1a1a" stroke-width="1.12"/>
<path d="M97.22 239.3L109.85 234.55A1.9 3.3 -20.6 0 0 107.53 228.37L94.9 233.12Z" fill="#fff" stroke="#1a1a1a" stroke-width="1.12" stroke-linejoin="round"/>
<ellipse cx="96.06" cy="236.21" rx="1.9" ry="3.3" transform="rotate(-20.6 96.06 236.21)" fill="#fff" stroke="#1a1a1a" stroke-width="1.12"/>
<path d="M95.64 239.36L97.04 238.83A1.62 2.8 -20.6 0 0 95.07 233.59L93.67 234.12Z" fill="#fff" stroke="#1a1a1a" stroke-width="1.12" stroke-linejoin="round"/>
<ellipse cx="94.65" cy="236.74" rx="1.62" ry="2.8" transform="rotate(-20.6 94.65 236.74)" fill="#fff" stroke="#1a1a1a" stroke-width="1.12"/>
<path d="M94.29 241.47L96.17 240.76A2.48 4.3 -20.6 0 0 93.14 232.71L91.27 233.42Z" fill="#fff" stroke="#1a1a1a" stroke-width="1.12" stroke-linejoin="round"/>
<ellipse cx="92.78" cy="237.44" rx="2.48" ry="4.3" transform="rotate(-20.6 92.78 237.44)" fill="#fff" stroke="#1a1a1a" stroke-width="1.12"/>
<path d="M89.3 242.38L93.98 240.62A1.96 3.4 -20.6 0 0 91.58 234.26L86.9 236.02Z" fill="#fff" stroke="#1a1a1a" stroke-width="1.12" stroke-linejoin="round"/>
<path d="M89.12 237.18L93.8 235.42" stroke="#1a1a1a" stroke-width="0.6" fill="none"/>
<path d="M90.2 240.05L94.88 238.29" stroke="#1a1a1a" stroke-width="0.6" fill="none"/>
<ellipse cx="88.1" cy="239.2" rx="1.96" ry="3.4" transform="rotate(-20.6 88.1 239.2)" fill="#fff" stroke="#1a1a1a" stroke-width="1.12"/>
<path d="M114.44 204.8L114.7 217.75" stroke="#1a1a1a" stroke-width="0.75" fill="none"/>
<path d="M114.8 223L112.25 215.55L114.68 217.15L117.05 215.45Z" fill="#111"/>
<ellipse cx="142.89" cy="219.27" rx="2.3" ry="4.6" transform="rotate(-19 142.89 219.27)" fill="#fff" stroke="#1a1a1a" stroke-width="1.51"/>
<ellipse cx="140.69" cy="220.03" rx="2.3" ry="4.6" transform="rotate(-19 140.69 220.03)" fill="#fff" stroke="#1a1a1a" stroke-width="1.51"/>
<ellipse cx="138.5" cy="220.79" rx="2.3" ry="4.6" transform="rotate(-19 138.5 220.79)" fill="#fff" stroke="#1a1a1a" stroke-width="1.51"/>
<ellipse cx="136.3" cy="221.54" rx="2.3" ry="4.6" transform="rotate(-19 136.3 221.54)" fill="#fff" stroke="#1a1a1a" stroke-width="1.51"/>
<ellipse cx="134.1" cy="222.3" rx="2.3" ry="4.6" transform="rotate(-19 134.1 222.3)" fill="#fff" stroke="#1a1a1a" stroke-width="1.51"/>
<path d="M136.33 199.1L136.38 209.25" stroke="#1a1a1a" stroke-width="0.75" fill="none"/>
<path d="M136.4 214.5L133.97 207.01L136.37 208.65L138.77 206.99Z" fill="#111"/>
<path d="M187.92 209.32L190.76 208.34A3.98 6.9 -19 0 0 186.27 195.29L183.43 196.27Z" fill="#fff" stroke="#1a1a1a" stroke-width="1.12" stroke-linejoin="round"/>
<ellipse cx="185.67" cy="202.79" rx="3.98" ry="6.9" transform="rotate(-19 185.67 202.79)" fill="#fff" stroke="#1a1a1a" stroke-width="1.12"/>
<path d="M185.95 208.2L187.37 207.71A3 5.2 -19 0 0 183.98 197.88L182.56 198.37Z" fill="#fff" stroke="#1a1a1a" stroke-width="1.12" stroke-linejoin="round"/>
<ellipse cx="184.26" cy="203.28" rx="3" ry="5.2" transform="rotate(-19 184.26 203.28)" fill="#fff" stroke="#1a1a1a" stroke-width="1.12"/>
<path d="M179.88 212.08L186.5 209.81A3.98 6.9 -19 0 0 182.01 196.76L175.39 199.04Z" fill="#fff" stroke="#1a1a1a" stroke-width="1.12" stroke-linejoin="round"/>
<ellipse cx="177.64" cy="205.56" rx="3.98" ry="6.9" transform="rotate(-19 177.64 205.56)" fill="#fff" stroke="#1a1a1a" stroke-width="1.12"/>
<path d="M176.58 210.16L178.94 209.34A2.31 4 -19 0 0 176.34 201.78L173.97 202.59Z" fill="#fff" stroke="#1a1a1a" stroke-width="1.12" stroke-linejoin="round"/>
<ellipse cx="175.27" cy="206.37" rx="2.31" ry="4" transform="rotate(-19 175.27 206.37)" fill="#fff" stroke="#1a1a1a" stroke-width="1.12"/>
<path d="M166.22 215.41L177.1 211.67A3.23 5.6 -19 0 0 173.45 201.08L162.58 204.82Z" fill="#fff" stroke="#1a1a1a" stroke-width="1.12" stroke-linejoin="round"/>
<ellipse cx="164.4" cy="210.12" rx="3.23" ry="5.6" transform="rotate(-19 164.4 210.12)" fill="#fff" stroke="#1a1a1a" stroke-width="1.12"/>
<path d="M164.14 215.5L166.03 214.85A2.88 5 -19 0 0 162.77 205.39L160.88 206.04Z" fill="#fff" stroke="#1a1a1a" stroke-width="1.12" stroke-linejoin="round"/>
<ellipse cx="162.51" cy="210.77" rx="2.88" ry="5" transform="rotate(-19 162.51 210.77)" fill="#fff" stroke="#1a1a1a" stroke-width="1.12"/>
<path d="M156.57 221.17L165.08 218.24A4.56 7.9 -19 0 0 159.94 203.3L151.43 206.23Z" fill="#fff" stroke="#1a1a1a" stroke-width="1.12" stroke-linejoin="round"/>
<path d="M156.51 209.08L165.02 206.15" stroke="#1a1a1a" stroke-width="0.6" fill="none"/>
<path d="M158.82 215.8L167.33 212.87" stroke="#1a1a1a" stroke-width="0.6" fill="none"/>
<ellipse cx="154" cy="213.7" rx="4.56" ry="7.9" transform="rotate(-19 154 213.7)" fill="#fff" stroke="#1a1a1a" stroke-width="1.12"/>
<ellipse cx="154" cy="213.7" rx="3" ry="5.2" transform="rotate(-19 154 213.7)" fill="#fff" stroke="#1a1a1a" stroke-width="0.78"/>
<ellipse cx="184.26" cy="203.28" rx="2.25" ry="3" transform="rotate(-73.3 184.26 203.28)" fill="#666" stroke="#1a1a1a" stroke-width="1.01"/>
<path d="M166.06 187.1L165.91 194.95" stroke="#1a1a1a" stroke-width="0.75" fill="none"/>
<path d="M165.8 200.2L163.55 192.65L165.92 194.35L168.35 192.75Z" fill="#111"/>
<path d="M202.07 201.89L205.85 200.59A2.25 3.9 -19 0 0 203.31 193.21L199.53 194.51Z" fill="#fff" stroke="#1a1a1a" stroke-width="1.12" stroke-linejoin="round"/>
<ellipse cx="200.8" cy="198.2" rx="2.25" ry="3.9" transform="rotate(-19 200.8 198.2)" fill="#fff" stroke="#1a1a1a" stroke-width="1.12"/>
<ellipse cx="200.8" cy="198.2" rx="1.15" ry="2" transform="rotate(-19 200.8 198.2)" fill="#fff" stroke="#1a1a1a" stroke-width="0.78"/>
<path d="M201.33 176.4L201.5 185.35" stroke="#1a1a1a" stroke-width="0.75" fill="none"/>
<path d="M201.6 190.6L199.06 183.15L201.49 184.75L203.86 183.06Z" fill="#111"/>
<path d="M227.98 190.86L229.4 190.37A1.73 3 -19 0 0 227.44 184.69L226.02 185.18Z" fill="#fff" stroke="#1a1a1a" stroke-width="1.12" stroke-linejoin="round"/>
<ellipse cx="227" cy="188.02" rx="1.73" ry="3" transform="rotate(-19 227 188.02)" fill="#fff" stroke="#1a1a1a" stroke-width="1.12"/>
<path d="M217.19 193.3L227.59 189.72A1.04 1.8 -19 0 0 226.41 186.32L216.01 189.9Z" fill="#fff" stroke="#1a1a1a" stroke-width="1.12" stroke-linejoin="round"/>
<ellipse cx="216.6" cy="191.6" rx="1.04" ry="1.8" transform="rotate(-19 216.6 191.6)" fill="#fff" stroke="#1a1a1a" stroke-width="1.12"/>
<path d="M222.73 170.1L222.65 177.25" stroke="#1a1a1a" stroke-width="0.75" fill="none"/>
<path d="M222.6 182.5L220.28 174.98L222.66 176.65L225.08 175.03Z" fill="#111"/>
<path d="M242.84 185.64L245.1 184.58A3.46 6 -25 0 0 240.03 173.71L237.76 174.76Z" fill="#fff" stroke="#1a1a1a" stroke-width="1.12" stroke-linejoin="round"/>
<ellipse cx="240.3" cy="180.2" rx="3.46" ry="6" transform="rotate(-25 240.3 180.2)" fill="#fff" stroke="#1a1a1a" stroke-width="1.12"/>
<ellipse cx="240.3" cy="180.2" rx="2.65" ry="4.6" transform="rotate(-25 240.3 180.2)" fill="#fff" stroke="#1a1a1a" stroke-width="0.78"/>
<path d="M243.86 183.39A2.54 4.4 -25 0 0 240.14 175.41" fill="none" stroke="#1a1a1a" stroke-width="0.67"/>
<path d="M241.69 160.8L241.58 167.35" stroke="#1a1a1a" stroke-width="0.75" fill="none"/>
<path d="M241.5 172.6L239.22 165.06L241.59 166.75L244.02 165.14Z" fill="#111"/>
<path d="M249.3 177L266 172.5" fill="none" stroke="#1a1a1a" stroke-width="0.84" stroke-linejoin="round"/>
<path d="M266 172.5L356.8 234" fill="none" stroke="#1a1a1a" stroke-width="0.84" stroke-dasharray="21 2 4 2" stroke-linejoin="round"/>
<path d="M351 230.1L356.8 234L363.5 229.9" fill="none" stroke="#1a1a1a" stroke-width="0.84" stroke-linejoin="round"/>
<path d="M176.7 275L170 266.7L292.3 199.5L300.5 205.5" fill="none" stroke="#1a1a1a" stroke-width="0.84" stroke-linejoin="round"/>
<path d="M221.8 227L228.75 234.25" fill="none" stroke="#1a1a1a" stroke-width="0.84" stroke-linejoin="round"/>
<path d="M172.78 282.57L176.69 280.35A2.19 3.8 -29.5 0 0 172.95 273.74L169.03 275.95Z" fill="#fff" stroke="#1a1a1a" stroke-width="1.12" stroke-linejoin="round"/>
<ellipse cx="170.91" cy="279.26" rx="2.19" ry="3.8" transform="rotate(-29.5 170.91 279.26)" fill="#fff" stroke="#1a1a1a" stroke-width="1.12"/>
<path d="M170.78 282.09L172.09 281.35A1.38 2.4 -29.5 0 0 169.72 277.17L168.42 277.91Z" fill="#fff" stroke="#1a1a1a" stroke-width="1.12" stroke-linejoin="round"/>
<ellipse cx="169.6" cy="280" rx="1.38" ry="2.4" transform="rotate(-29.5 169.6 280)" fill="#fff" stroke="#1a1a1a" stroke-width="1.12"/>
<ellipse cx="169.6" cy="280" rx="0.58" ry="1" transform="rotate(-29.5 169.6 280)" fill="#333" stroke="#1a1a1a" stroke-width="0.78"/>
<path d="M188.47 286.8L181.68 284.13" stroke="#1a1a1a" stroke-width="0.75" fill="none"/>
<path d="M176.8 282.2L184.66 282.72L182.24 284.35L182.9 287.18Z" fill="#111"/>
<path d="M222.38 252.19L238.04 243.32A1.21 2.1 -29.5 0 0 235.97 239.67L220.31 248.53Z" fill="#777" stroke="#1a1a1a" stroke-width="1.12" stroke-linejoin="round"/>
<path d="M222.38 252.19A1.21 2.1 -29.5 0 0 220.31 248.53" fill="none" stroke="#1a1a1a" stroke-width="0.56"/>
<path d="M223.68 251.45A1.21 2.1 -29.5 0 0 221.61 247.79" fill="none" stroke="#1a1a1a" stroke-width="0.56"/>
<path d="M224.99 250.71A1.21 2.1 -29.5 0 0 222.92 247.05" fill="none" stroke="#1a1a1a" stroke-width="0.56"/>
<path d="M226.29 249.97A1.21 2.1 -29.5 0 0 224.22 246.32" fill="none" stroke="#1a1a1a" stroke-width="0.56"/>
<path d="M227.6 249.23A1.21 2.1 -29.5 0 0 225.53 245.58" fill="none" stroke="#1a1a1a" stroke-width="0.56"/>
<path d="M228.9 248.49A1.21 2.1 -29.5 0 0 226.84 244.84" fill="none" stroke="#1a1a1a" stroke-width="0.56"/>
<path d="M230.21 247.76A1.21 2.1 -29.5 0 0 228.14 244.1" fill="none" stroke="#1a1a1a" stroke-width="0.56"/>
<path d="M231.51 247.02A1.21 2.1 -29.5 0 0 229.45 243.36" fill="none" stroke="#1a1a1a" stroke-width="0.56"/>
<path d="M232.82 246.28A1.21 2.1 -29.5 0 0 230.75 242.62" fill="none" stroke="#1a1a1a" stroke-width="0.56"/>
<path d="M234.13 245.54A1.21 2.1 -29.5 0 0 232.06 241.88" fill="none" stroke="#1a1a1a" stroke-width="0.56"/>
<path d="M235.43 244.8A1.21 2.1 -29.5 0 0 233.36 241.15" fill="none" stroke="#1a1a1a" stroke-width="0.56"/>
<path d="M236.74 244.06A1.21 2.1 -29.5 0 0 234.67 240.41" fill="none" stroke="#1a1a1a" stroke-width="0.56"/>
<ellipse cx="221.34" cy="250.36" rx="1.21" ry="2.1" transform="rotate(-29.5 221.34 250.36)" fill="#777" stroke="#1a1a1a" stroke-width="1.12"/>
<path d="M199.74 263.96L221.93 251.4A0.69 1.2 -29.5 0 0 220.75 249.32L198.56 261.87Z" fill="#fff" stroke="#1a1a1a" stroke-width="1.12" stroke-linejoin="round"/>
<ellipse cx="199.15" cy="262.92" rx="0.69" ry="1.2" transform="rotate(-29.5 199.15 262.92)" fill="#fff" stroke="#1a1a1a" stroke-width="1.12"/>
<path d="M198.98 266.69L200.72 265.7A1.85 3.2 -29.5 0 0 197.57 260.13L195.83 261.12Z" fill="#fff" stroke="#1a1a1a" stroke-width="1.12" stroke-linejoin="round"/>
<path d="M198.06 261.88L199.8 260.89" stroke="#1a1a1a" stroke-width="0.6" fill="none"/>
<path d="M199.48 264.38L201.22 263.4" stroke="#1a1a1a" stroke-width="0.6" fill="none"/>
<ellipse cx="197.41" cy="263.9" rx="1.85" ry="3.2" transform="rotate(-29.5 197.41 263.9)" fill="#fff" stroke="#1a1a1a" stroke-width="1.12"/>
<path d="M196.31 267.05L198.49 265.82A1.27 2.2 -29.5 0 0 196.32 261.99L194.15 263.22Z" fill="#fff" stroke="#1a1a1a" stroke-width="1.12" stroke-linejoin="round"/>
<path d="M196.31 267.05A1.27 2.2 -29.5 0 0 194.15 263.22" fill="none" stroke="#1a1a1a" stroke-width="0.56"/>
<path d="M197.4 266.43A1.27 2.2 -29.5 0 0 195.24 262.6" fill="none" stroke="#1a1a1a" stroke-width="0.56"/>
<ellipse cx="195.23" cy="265.13" rx="1.27" ry="2.2" transform="rotate(-29.5 195.23 265.13)" fill="#fff" stroke="#1a1a1a" stroke-width="1.12"/>
<path d="M194.49 269.92L197.1 268.44A2.19 3.8 -29.5 0 0 193.36 261.83L190.75 263.3Z" fill="#fff" stroke="#1a1a1a" stroke-width="1.12" stroke-linejoin="round"/>
<ellipse cx="192.62" cy="266.61" rx="2.19" ry="3.8" transform="rotate(-29.5 192.62 266.61)" fill="#fff" stroke="#1a1a1a" stroke-width="1.12"/>
<path d="M191.86 269.34L193.61 268.35A1.15 2 -29.5 0 0 191.64 264.87L189.89 265.85Z" fill="#fff" stroke="#1a1a1a" stroke-width="1.12" stroke-linejoin="round"/>
<ellipse cx="190.88" cy="267.59" rx="1.15" ry="2" transform="rotate(-29.5 190.88 267.59)" fill="#fff" stroke="#1a1a1a" stroke-width="1.12"/>
<path d="M190.81 271.54L192.55 270.55A1.96 3.4 -29.5 0 0 189.21 264.64L187.46 265.62Z" fill="#fff" stroke="#1a1a1a" stroke-width="1.12" stroke-linejoin="round"/>
<ellipse cx="189.14" cy="268.58" rx="1.96" ry="3.4" transform="rotate(-29.5 189.14 268.58)" fill="#fff" stroke="#1a1a1a" stroke-width="1.12"/>
<path d="M187.75 271.2L189.93 269.97A0.92 1.6 -29.5 0 0 188.35 267.19L186.17 268.42Z" fill="#fff" stroke="#1a1a1a" stroke-width="1.12" stroke-linejoin="round"/>
<ellipse cx="186.96" cy="269.81" rx="0.92" ry="1.6" transform="rotate(-29.5 186.96 269.81)" fill="#fff" stroke="#1a1a1a" stroke-width="1.12"/>
<path d="M180.25 274.19L187.21 270.25A0.29 0.5 -29.5 0 0 186.72 269.38L179.75 273.31Z" fill="#fff" stroke="#1a1a1a" stroke-width="1.12" stroke-linejoin="round"/>
<ellipse cx="180" cy="273.75" rx="0.29" ry="0.5" transform="rotate(-29.5 180 273.75)" fill="#fff" stroke="#1a1a1a" stroke-width="1.12"/>
<path d="M241.61 255.08L237.52 250.8" stroke="#1a1a1a" stroke-width="0.75" fill="none"/>
<path d="M233.9 247L240.81 250.77L237.94 251.23L237.34 254.08Z" fill="#111"/>
<path d="M211.52 276.34L213.43 275.26A2.48 4.3 -29.5 0 0 209.2 267.77L207.28 268.86Z" fill="#fff" stroke="#1a1a1a" stroke-width="1.12" stroke-linejoin="round"/>
<ellipse cx="209.4" cy="272.6" rx="2.48" ry="4.3" transform="rotate(-29.5 209.4 272.6)" fill="#fff" stroke="#1a1a1a" stroke-width="1.12"/>
<path d="M226.91 272.86L220.84 272.56" stroke="#1a1a1a" stroke-width="0.75" fill="none"/>
<path d="M215.6 272.3L223.21 270.28L221.44 272.59L222.97 275.07Z" fill="#111"/>
<ellipse cx="254.49" cy="230.67" rx="1.55" ry="3.1" transform="rotate(-29.5 254.49 230.67)" fill="#fff" stroke="#1a1a1a" stroke-width="1.01"/>
<ellipse cx="252.24" cy="231.94" rx="1.55" ry="3.1" transform="rotate(-29.5 252.24 231.94)" fill="#fff" stroke="#1a1a1a" stroke-width="1.01"/>
<ellipse cx="249.99" cy="233.21" rx="1.55" ry="3.1" transform="rotate(-29.5 249.99 233.21)" fill="#fff" stroke="#1a1a1a" stroke-width="1.01"/>
<ellipse cx="247.75" cy="234.48" rx="1.55" ry="3.1" transform="rotate(-29.5 247.75 234.48)" fill="#fff" stroke="#1a1a1a" stroke-width="1.01"/>
<ellipse cx="245.5" cy="235.76" rx="1.55" ry="3.1" transform="rotate(-29.5 245.5 235.76)" fill="#fff" stroke="#1a1a1a" stroke-width="1.01"/>
<ellipse cx="243.25" cy="237.03" rx="1.55" ry="3.1" transform="rotate(-29.5 243.25 237.03)" fill="#fff" stroke="#1a1a1a" stroke-width="1.01"/>
<ellipse cx="241" cy="238.3" rx="1.55" ry="3.1" transform="rotate(-29.5 241 238.3)" fill="#fff" stroke="#1a1a1a" stroke-width="1.01"/>
<path d="M260.9 246L256.44 242.07" stroke="#1a1a1a" stroke-width="0.75" fill="none"/>
<path d="M252.5 238.6L259.71 241.76L256.89 242.47L256.54 245.36Z" fill="#111"/>
<path d="M273.85 226.85L282.55 221.93A3.29 5.7 -29.5 0 0 276.94 212.01L268.24 216.93Z" fill="#fff" stroke="#1a1a1a" stroke-width="1.12" stroke-linejoin="round"/>
<path d="M272.21 218.28L280.92 213.36" stroke="#1a1a1a" stroke-width="0.6" fill="none"/>
<path d="M274.74 222.75L283.44 217.82" stroke="#1a1a1a" stroke-width="0.6" fill="none"/>
<ellipse cx="271.04" cy="221.89" rx="3.29" ry="5.7" transform="rotate(-29.5 271.04 221.89)" fill="#fff" stroke="#1a1a1a" stroke-width="1.12"/>
<path d="M271.91 226.46L273.21 225.72A2.54 4.4 -29.5 0 0 268.88 218.06L267.57 218.8Z" fill="#fff" stroke="#1a1a1a" stroke-width="1.12" stroke-linejoin="round"/>
<ellipse cx="269.74" cy="222.63" rx="2.54" ry="4.4" transform="rotate(-29.5 269.74 222.63)" fill="#fff" stroke="#1a1a1a" stroke-width="1.12"/>
<path d="M265.72 230.76L272.25 227.07A2.94 5.1 -29.5 0 0 267.23 218.19L260.7 221.88Z" fill="#fff" stroke="#1a1a1a" stroke-width="1.12" stroke-linejoin="round"/>
<path d="M265.72 230.76A2.94 5.1 -29.5 0 0 260.7 221.88" fill="none" stroke="#1a1a1a" stroke-width="0.56"/>
<path d="M267.03 230.02A2.94 5.1 -29.5 0 0 262.01 221.15" fill="none" stroke="#1a1a1a" stroke-width="0.56"/>
<path d="M268.33 229.28A2.94 5.1 -29.5 0 0 263.31 220.41" fill="none" stroke="#1a1a1a" stroke-width="0.56"/>
<path d="M269.64 228.55A2.94 5.1 -29.5 0 0 264.62 219.67" fill="none" stroke="#1a1a1a" stroke-width="0.56"/>
<path d="M270.94 227.81A2.94 5.1 -29.5 0 0 265.92 218.93" fill="none" stroke="#1a1a1a" stroke-width="0.56"/>
<ellipse cx="263.21" cy="226.32" rx="2.94" ry="5.1" transform="rotate(-29.5 263.21 226.32)" fill="#fff" stroke="#1a1a1a" stroke-width="1.12"/>
<path d="M263.11 232.24L265.72 230.76A2.94 5.1 -29.5 0 0 260.7 221.88L258.09 223.36Z" fill="#fff" stroke="#1a1a1a" stroke-width="1.12" stroke-linejoin="round"/>
<ellipse cx="260.6" cy="227.8" rx="2.94" ry="5.1" transform="rotate(-29.5 260.6 227.8)" fill="#fff" stroke="#1a1a1a" stroke-width="1.12"/>
<ellipse cx="260.6" cy="227.8" rx="2.02" ry="3.5" transform="rotate(-29.5 260.6 227.8)" fill="#fff" stroke="#1a1a1a" stroke-width="0.78"/>
<path d="M286.47 218.86L289.95 216.89A2.42 4.2 -29.5 0 0 285.81 209.57L282.33 211.54Z" fill="#fff" stroke="#1a1a1a" stroke-width="1.12" stroke-linejoin="round"/>
<path d="M285.26 212.54L288.74 210.57" stroke="#1a1a1a" stroke-width="0.6" fill="none"/>
<path d="M287.12 215.83L290.6 213.86" stroke="#1a1a1a" stroke-width="0.6" fill="none"/>
<ellipse cx="284.4" cy="215.2" rx="2.42" ry="4.2" transform="rotate(-29.5 284.4 215.2)" fill="#fff" stroke="#1a1a1a" stroke-width="1.12"/>
<ellipse cx="284.4" cy="215.2" rx="1.27" ry="2.2" transform="rotate(-29.5 284.4 215.2)" fill="#fff" stroke="#1a1a1a" stroke-width="0.78"/>
<path d="M293.89 225.58L291.77 222.78" stroke="#1a1a1a" stroke-width="0.75" fill="none"/>
<path d="M288.6 218.6L295.04 223.13L292.13 223.26L291.22 226.03Z" fill="#111"/>
<path d="M294.43 212.12L297.04 210.65A1.67 2.9 -29.5 0 0 294.18 205.6L291.57 207.08Z" fill="#ccc" stroke="#1a1a1a" stroke-width="1.12" stroke-linejoin="round"/>
<path d="M293.6 207.76L296.21 206.29" stroke="#1a1a1a" stroke-width="0.6" fill="none"/>
<path d="M294.88 210.04L297.49 208.56" stroke="#1a1a1a" stroke-width="0.6" fill="none"/>
<ellipse cx="293" cy="209.6" rx="1.67" ry="2.9" transform="rotate(-29.5 293 209.6)" fill="#ccc" stroke="#1a1a1a" stroke-width="1.12"/>
<ellipse cx="293" cy="209.6" rx="0.75" ry="1.3" transform="rotate(-29.5 293 209.6)" fill="#fff" stroke="#1a1a1a" stroke-width="0.78"/>
<path d="M307.35 216.22L304.36 214.22" stroke="#1a1a1a" stroke-width="0.75" fill="none"/>
<path d="M300 211.3L307.57 213.48L304.86 214.55L304.9 217.47Z" fill="#111"/>
<path d="M229.8 311.6L222.8 302.3L344.5 233L352.5 239.5" fill="none" stroke="#1a1a1a" stroke-width="0.84" stroke-linejoin="round"/>
<path d="M283.7 262.5L287.5 264.8" fill="none" stroke="#1a1a1a" stroke-width="0.84" stroke-linejoin="round"/>
<path d="M276.81 288.36L290.84 280.26A1.27 2.2 -30 0 0 288.64 276.44L274.61 284.54Z" fill="#777" stroke="#1a1a1a" stroke-width="1.12" stroke-linejoin="round"/>
<path d="M276.81 288.36A1.27 2.2 -30 0 0 274.61 284.54" fill="none" stroke="#1a1a1a" stroke-width="0.56"/>
<path d="M278.08 287.62A1.27 2.2 -30 0 0 275.88 283.81" fill="none" stroke="#1a1a1a" stroke-width="0.56"/>
<path d="M279.36 286.88A1.27 2.2 -30 0 0 277.16 283.07" fill="none" stroke="#1a1a1a" stroke-width="0.56"/>
<path d="M280.64 286.15A1.27 2.2 -30 0 0 278.44 282.34" fill="none" stroke="#1a1a1a" stroke-width="0.56"/>
<path d="M281.91 285.41A1.27 2.2 -30 0 0 279.71 281.6" fill="none" stroke="#1a1a1a" stroke-width="0.56"/>
<path d="M283.19 284.67A1.27 2.2 -30 0 0 280.99 280.86" fill="none" stroke="#1a1a1a" stroke-width="0.56"/>
<path d="M284.46 283.94A1.27 2.2 -30 0 0 282.26 280.13" fill="none" stroke="#1a1a1a" stroke-width="0.56"/>
<path d="M285.74 283.2A1.27 2.2 -30 0 0 283.54 279.39" fill="none" stroke="#1a1a1a" stroke-width="0.56"/>
<path d="M287.01 282.46A1.27 2.2 -30 0 0 284.81 278.65" fill="none" stroke="#1a1a1a" stroke-width="0.56"/>
<path d="M288.29 281.73A1.27 2.2 -30 0 0 286.09 277.92" fill="none" stroke="#1a1a1a" stroke-width="0.56"/>
<path d="M289.56 280.99A1.27 2.2 -30 0 0 287.36 277.18" fill="none" stroke="#1a1a1a" stroke-width="0.56"/>
<ellipse cx="275.71" cy="286.45" rx="1.27" ry="2.2" transform="rotate(-30 275.71 286.45)" fill="#777" stroke="#1a1a1a" stroke-width="1.12"/>
<path d="M259.47 297.33L276.36 287.58A0.75 1.3 -30 0 0 275.06 285.32L258.17 295.07Z" fill="#fff" stroke="#1a1a1a" stroke-width="1.12" stroke-linejoin="round"/>
<ellipse cx="258.82" cy="296.2" rx="0.75" ry="1.3" transform="rotate(-30 258.82 296.2)" fill="#fff" stroke="#1a1a1a" stroke-width="1.12"/>
<path d="M256.66 300.45L260.12 298.45A1.5 2.6 -30 0 0 257.52 293.95L254.06 295.95Z" fill="#fff" stroke="#1a1a1a" stroke-width="1.12" stroke-linejoin="round"/>
<path d="M255.88 296.55L259.34 294.55" stroke="#1a1a1a" stroke-width="0.6" fill="none"/>
<path d="M257.05 298.58L260.51 296.58" stroke="#1a1a1a" stroke-width="0.6" fill="none"/>
<ellipse cx="255.36" cy="298.2" rx="1.5" ry="2.6" transform="rotate(-30 255.36 298.2)" fill="#fff" stroke="#1a1a1a" stroke-width="1.12"/>
<path d="M251.45 305.42L257.51 301.92A2.48 4.3 -30 0 0 253.21 294.48L247.15 297.98Z" fill="#fff" stroke="#1a1a1a" stroke-width="1.12" stroke-linejoin="round"/>
<ellipse cx="249.3" cy="301.7" rx="2.48" ry="4.3" transform="rotate(-30 249.3 301.7)" fill="#fff" stroke="#1a1a1a" stroke-width="1.12"/>
<path d="M245.93 309.88L252 306.38A3.12 5.4 -30 0 0 246.6 297.02L240.53 300.52Z" fill="#fff" stroke="#1a1a1a" stroke-width="1.12" stroke-linejoin="round"/>
<ellipse cx="243.23" cy="305.2" rx="3.12" ry="5.4" transform="rotate(-30 243.23 305.2)" fill="#fff" stroke="#1a1a1a" stroke-width="1.12"/>
<path d="M242.33 308.03L244.23 306.93A1.15 2 -30 0 0 242.23 303.47L240.33 304.57Z" fill="#fff" stroke="#1a1a1a" stroke-width="1.12" stroke-linejoin="round"/>
<ellipse cx="241.33" cy="306.3" rx="1.15" ry="2" transform="rotate(-30 241.33 306.3)" fill="#fff" stroke="#1a1a1a" stroke-width="1.12"/>
<path d="M236.1 313.24L243.03 309.24A1.96 3.4 -30 0 0 239.63 303.36L232.7 307.36Z" fill="#fff" stroke="#1a1a1a" stroke-width="1.12" stroke-linejoin="round"/>
<ellipse cx="234.4" cy="310.3" rx="1.96" ry="3.4" transform="rotate(-30 234.4 310.3)" fill="#fff" stroke="#1a1a1a" stroke-width="1.12"/>
<path d="M306.31 288.66L295.23 284.6" stroke="#1a1a1a" stroke-width="0.75" fill="none"/>
<path d="M290.3 282.8L298.17 283.12L295.79 284.81L296.52 287.63Z" fill="#111"/>
<path d="M266.8 317.05L268.71 315.95A4.03 5.6 -30 0 0 263.11 306.25L261.2 307.35Z" fill="#fff" stroke="#1a1a1a" stroke-width="1.12" stroke-linejoin="round"/>
<ellipse cx="264" cy="312.2" rx="4.03" ry="5.6" transform="rotate(-30 264 312.2)" fill="#fff" stroke="#1a1a1a" stroke-width="1.12"/>
<path d="M251.94 318.29L253.99 317.39" stroke="#1a1a1a" stroke-width="0.75" fill="none"/>
<path d="M258.8 315.3L252.88 320.49L253.44 317.63L250.97 316.09Z" fill="#111"/>
<ellipse cx="306.05" cy="269.3" rx="1.55" ry="3.1" transform="rotate(-30 306.05 269.3)" fill="#fff" stroke="#1a1a1a" stroke-width="1.01"/>
<ellipse cx="304" cy="270.48" rx="1.55" ry="3.1" transform="rotate(-30 304 270.48)" fill="#fff" stroke="#1a1a1a" stroke-width="1.01"/>
<ellipse cx="301.95" cy="271.67" rx="1.55" ry="3.1" transform="rotate(-30 301.95 271.67)" fill="#fff" stroke="#1a1a1a" stroke-width="1.01"/>
<ellipse cx="299.9" cy="272.85" rx="1.55" ry="3.1" transform="rotate(-30 299.9 272.85)" fill="#fff" stroke="#1a1a1a" stroke-width="1.01"/>
<ellipse cx="297.85" cy="274.03" rx="1.55" ry="3.1" transform="rotate(-30 297.85 274.03)" fill="#fff" stroke="#1a1a1a" stroke-width="1.01"/>
<ellipse cx="295.8" cy="275.22" rx="1.55" ry="3.1" transform="rotate(-30 295.8 275.22)" fill="#fff" stroke="#1a1a1a" stroke-width="1.01"/>
<ellipse cx="293.75" cy="276.4" rx="1.55" ry="3.1" transform="rotate(-30 293.75 276.4)" fill="#fff" stroke="#1a1a1a" stroke-width="1.01"/>
<path d="M320.81 279.97L312.51 277.37" stroke="#1a1a1a" stroke-width="0.75" fill="none"/>
<path d="M307.5 275.8L315.37 275.75L313.08 277.55L313.94 280.33Z" fill="#111"/>
<path d="M330.39 260.95L337.75 256.7A3.23 5.6 -30 0 0 332.15 247L324.79 251.25Z" fill="#fff" stroke="#1a1a1a" stroke-width="1.12" stroke-linejoin="round"/>
<path d="M328.71 252.54L336.07 248.29" stroke="#1a1a1a" stroke-width="0.6" fill="none"/>
<path d="M331.23 256.91L338.59 252.66" stroke="#1a1a1a" stroke-width="0.6" fill="none"/>
<ellipse cx="327.59" cy="256.1" rx="3.23" ry="5.6" transform="rotate(-30 327.59 256.1)" fill="#fff" stroke="#1a1a1a" stroke-width="1.12"/>
<path d="M328.59 260.83L329.89 260.08A2.65 4.6 -30 0 0 325.29 252.12L323.99 252.87Z" fill="#fff" stroke="#1a1a1a" stroke-width="1.12" stroke-linejoin="round"/>
<ellipse cx="326.29" cy="256.85" rx="2.65" ry="4.6" transform="rotate(-30 326.29 256.85)" fill="#fff" stroke="#1a1a1a" stroke-width="1.12"/>
<path d="M320.5 267.82L329.59 262.57A3.81 6.6 -30 0 0 322.99 251.13L313.9 256.38Z" fill="#fff" stroke="#1a1a1a" stroke-width="1.12" stroke-linejoin="round"/>
<path d="M320.5 267.82A3.81 6.6 -30 0 0 313.9 256.38" fill="none" stroke="#1a1a1a" stroke-width="0.56"/>
<path d="M321.8 267.07A3.81 6.6 -30 0 0 315.2 255.63" fill="none" stroke="#1a1a1a" stroke-width="0.56"/>
<path d="M323.1 266.32A3.81 6.6 -30 0 0 316.5 254.88" fill="none" stroke="#1a1a1a" stroke-width="0.56"/>
<path d="M324.4 265.57A3.81 6.6 -30 0 0 317.8 254.13" fill="none" stroke="#1a1a1a" stroke-width="0.56"/>
<path d="M325.69 264.82A3.81 6.6 -30 0 0 319.09 253.38" fill="none" stroke="#1a1a1a" stroke-width="0.56"/>
<path d="M326.99 264.07A3.81 6.6 -30 0 0 320.39 252.63" fill="none" stroke="#1a1a1a" stroke-width="0.56"/>
<path d="M328.29 263.32A3.81 6.6 -30 0 0 321.69 251.88" fill="none" stroke="#1a1a1a" stroke-width="0.56"/>
<ellipse cx="317.2" cy="262.1" rx="3.81" ry="6.6" transform="rotate(-30 317.2 262.1)" fill="#fff" stroke="#1a1a1a" stroke-width="1.12"/>
<path d="M317.9 269.32L320.5 267.82A3.81 6.6 -30 0 0 313.9 256.38L311.3 257.88Z" fill="#fff" stroke="#1a1a1a" stroke-width="1.12" stroke-linejoin="round"/>
<ellipse cx="314.6" cy="263.6" rx="3.81" ry="6.6" transform="rotate(-30 314.6 263.6)" fill="#fff" stroke="#1a1a1a" stroke-width="1.12"/>
<ellipse cx="314.6" cy="263.6" rx="2.08" ry="3.6" transform="rotate(-30 314.6 263.6)" fill="#fff" stroke="#1a1a1a" stroke-width="0.78"/>
<path d="M338.26 267.99L335.49 266.45" stroke="#1a1a1a" stroke-width="0.75" fill="none"/>
<path d="M330.9 263.9L338.62 265.45L336.01 266.74L336.29 269.64Z" fill="#111"/>
<path d="M341.35 253.72L344.81 251.72A2.48 4.3 -30 0 0 340.51 244.28L337.05 246.28Z" fill="#fff" stroke="#1a1a1a" stroke-width="1.12" stroke-linejoin="round"/>
<path d="M340.06 247.27L343.52 245.27" stroke="#1a1a1a" stroke-width="0.6" fill="none"/>
<path d="M341.99 250.62L345.46 248.62" stroke="#1a1a1a" stroke-width="0.6" fill="none"/>
<ellipse cx="339.2" cy="250" rx="2.48" ry="4.3" transform="rotate(-30 339.2 250)" fill="#fff" stroke="#1a1a1a" stroke-width="1.12"/>
<ellipse cx="339.2" cy="250" rx="1.27" ry="2.2" transform="rotate(-30 339.2 250)" fill="#fff" stroke="#1a1a1a" stroke-width="0.78"/>
<path d="M351.79 257.98L350.48 256.98" stroke="#1a1a1a" stroke-width="0.75" fill="none"/>
<path d="M346.3 253.8L353.72 256.43L350.95 257.34L350.81 260.25Z" fill="#111"/>
<path d="M349.85 247.91L352.45 246.41A1.67 2.9 -30 0 0 349.55 241.39L346.95 242.89Z" fill="#ccc" stroke="#1a1a1a" stroke-width="1.12" stroke-linejoin="round"/>
<path d="M348.98 243.56L351.58 242.06" stroke="#1a1a1a" stroke-width="0.6" fill="none"/>
<path d="M350.28 245.82L352.88 244.32" stroke="#1a1a1a" stroke-width="0.6" fill="none"/>
<ellipse cx="348.4" cy="245.4" rx="1.67" ry="2.9" transform="rotate(-30 348.4 245.4)" fill="#ccc" stroke="#1a1a1a" stroke-width="1.12"/>
<ellipse cx="348.4" cy="245.4" rx="0.75" ry="1.3" transform="rotate(-30 348.4 245.4)" fill="#fff" stroke="#1a1a1a" stroke-width="0.78"/>
<path d="M364.8 250.12L360.44 248.56" stroke="#1a1a1a" stroke-width="0.75" fill="none"/>
<path d="M355.5 246.8L363.37 247.06L361.01 248.77L361.76 251.58Z" fill="#111"/>
<path d="M354.8 241.6L375.6 228.9" fill="none" stroke="#1a1a1a" stroke-width="0.84" stroke-linejoin="round"/>
<path d="M265.6 349.3L279.6 362.8L380.3 296.7L362 281.8" fill="none" stroke="#1a1a1a" stroke-width="0.84" stroke-linejoin="round"/>
<path d="M337.3 327L333.9 326.4" fill="none" stroke="#1a1a1a" stroke-width="0.84" stroke-linejoin="round"/>
<path d="M271.89 347.14L276.18 344.57A3.46 6 -31 0 0 270 334.28L265.71 336.86Z" fill="#fff" stroke="#1a1a1a" stroke-width="1.12" stroke-linejoin="round"/>
<path d="M269.93 338.17L274.22 335.59" stroke="#1a1a1a" stroke-width="0.6" fill="none"/>
<path d="M272.71 342.8L277 340.22" stroke="#1a1a1a" stroke-width="0.6" fill="none"/>
<ellipse cx="268.8" cy="342" rx="3.46" ry="6" transform="rotate(-31 268.8 342)" fill="#fff" stroke="#1a1a1a" stroke-width="1.12"/>
<ellipse cx="268.8" cy="342" rx="1.27" ry="2.2" transform="rotate(-31 268.8 342)" fill="#fff" stroke="#1a1a1a" stroke-width="0.78"/>
<path d="M251.57 349.94L257.71 346.86" stroke="#1a1a1a" stroke-width="0.75" fill="none"/>
<path d="M262.4 344.5L256.78 350.01L257.17 347.13L254.62 345.73Z" fill="#111"/>
<path d="M280.66 337.63L282.37 336.6A2.31 4 -31 0 0 278.25 329.74L276.54 330.77Z" fill="#777" stroke="#1a1a1a" stroke-width="1.12" stroke-linejoin="round"/>
<ellipse cx="278.6" cy="334.2" rx="2.31" ry="4" transform="rotate(-31 278.6 334.2)" fill="#777" stroke="#1a1a1a" stroke-width="1.12"/>
<ellipse cx="278.6" cy="334.2" rx="1.04" ry="1.8" transform="rotate(-31 278.6 334.2)" fill="#fff" stroke="#1a1a1a" stroke-width="0.78"/>
<path d="M277.38 307.3L277.54 320.75" stroke="#1a1a1a" stroke-width="0.75" fill="none"/>
<path d="M277.6 326L275.11 318.53L277.53 320.15L279.91 318.47Z" fill="#111"/>
<path d="M313.4 319.67L316.43 317.91A3.81 6.6 -30.3 0 0 309.77 306.51L306.75 308.27Z" fill="#fff" stroke="#1a1a1a" stroke-width="1.12" stroke-linejoin="round"/>
<ellipse cx="310.08" cy="313.97" rx="3.81" ry="6.6" transform="rotate(-30.3 310.08 313.97)" fill="#fff" stroke="#1a1a1a" stroke-width="1.12"/>
<path d="M305.75 320.44L311.79 316.91A1.96 3.4 -30.3 0 0 308.36 311.04L302.32 314.57Z" fill="#fff" stroke="#1a1a1a" stroke-width="1.12" stroke-linejoin="round"/>
<ellipse cx="304.03" cy="317.5" rx="1.96" ry="3.4" transform="rotate(-30.3 304.03 317.5)" fill="#fff" stroke="#1a1a1a" stroke-width="1.12"/>
<path d="M296.54 330.45L307.76 323.89A4.27 7.4 -30.3 0 0 300.3 311.12L289.07 317.67Z" fill="#fff" stroke="#1a1a1a" stroke-width="1.12" stroke-linejoin="round"/>
<path d="M296.54 330.45A4.27 7.4 -30.3 0 0 289.07 317.67" fill="none" stroke="#1a1a1a" stroke-width="0.56"/>
<path d="M297.94 329.63A4.27 7.4 -30.3 0 0 290.48 316.85" fill="none" stroke="#1a1a1a" stroke-width="0.56"/>
<path d="M299.35 328.81A4.27 7.4 -30.3 0 0 291.88 316.03" fill="none" stroke="#1a1a1a" stroke-width="0.56"/>
<path d="M300.75 327.99A4.27 7.4 -30.3 0 0 293.28 315.22" fill="none" stroke="#1a1a1a" stroke-width="0.56"/>
<path d="M302.15 327.17A4.27 7.4 -30.3 0 0 294.69 314.4" fill="none" stroke="#1a1a1a" stroke-width="0.56"/>
<path d="M303.56 326.35A4.27 7.4 -30.3 0 0 296.09 313.58" fill="none" stroke="#1a1a1a" stroke-width="0.56"/>
<path d="M304.96 325.53A4.27 7.4 -30.3 0 0 297.49 312.76" fill="none" stroke="#1a1a1a" stroke-width="0.56"/>
<path d="M306.36 324.71A4.27 7.4 -30.3 0 0 298.89 311.94" fill="none" stroke="#1a1a1a" stroke-width="0.56"/>
<ellipse cx="292.81" cy="324.06" rx="4.27" ry="7.4" transform="rotate(-30.3 292.81 324.06)" fill="#fff" stroke="#1a1a1a" stroke-width="1.12"/>
<path d="M293.92 332.91L296.94 331.14A4.73 8.2 -30.3 0 0 288.67 316.98L285.65 318.75Z" fill="#fff" stroke="#1a1a1a" stroke-width="1.12" stroke-linejoin="round"/>
<ellipse cx="289.79" cy="325.83" rx="4.73" ry="8.2" transform="rotate(-30.3 289.79 325.83)" fill="#fff" stroke="#1a1a1a" stroke-width="1.12"/>
<path d="M290.18 330.46L291.9 329.46A2.42 4.2 -30.3 0 0 287.67 322.2L285.94 323.21Z" fill="#999" stroke="#1a1a1a" stroke-width="1.12" stroke-linejoin="round"/>
<ellipse cx="288.06" cy="326.84" rx="2.42" ry="4.2" transform="rotate(-30.3 288.06 326.84)" fill="#999" stroke="#1a1a1a" stroke-width="1.12"/>
<path d="M287.06 330.09L289.22 328.82A1.33 2.3 -30.3 0 0 286.9 324.85L284.74 326.11Z" fill="#fff" stroke="#1a1a1a" stroke-width="1.12" stroke-linejoin="round"/>
<ellipse cx="285.9" cy="328.1" rx="1.33" ry="2.3" transform="rotate(-30.3 285.9 328.1)" fill="#fff" stroke="#1a1a1a" stroke-width="1.12"/>
<ellipse cx="285.9" cy="328.1" rx="0.69" ry="1.2" transform="rotate(-30.3 285.9 328.1)" fill="#fff" stroke="#1a1a1a" stroke-width="0.78"/>
<path d="M293.87 303L293.8 306.75" stroke="#1a1a1a" stroke-width="0.75" fill="none"/>
<path d="M293.7 312L291.44 304.46L293.81 306.15L296.24 304.55Z" fill="#111"/>
<path d="M356.22 284.95L357.49 284.15A1.15 2 -32 0 0 355.37 280.76L354.1 281.56Z" fill="#fff" stroke="#1a1a1a" stroke-width="1.12" stroke-linejoin="round"/>
<ellipse cx="355.16" cy="283.25" rx="1.15" ry="2" transform="rotate(-32 355.16 283.25)" fill="#fff" stroke="#1a1a1a" stroke-width="1.12"/>
<path d="M354.53 287.9L357.07 286.31A2.08 3.6 -32 0 0 353.25 280.2L350.71 281.79Z" fill="#fff" stroke="#1a1a1a" stroke-width="1.12" stroke-linejoin="round"/>
<ellipse cx="352.62" cy="284.84" rx="2.08" ry="3.6" transform="rotate(-32 352.62 284.84)" fill="#fff" stroke="#1a1a1a" stroke-width="1.12"/>
<path d="M352.3 288.11L354 287.05A1.5 2.6 -32 0 0 351.24 282.64L349.54 283.7Z" fill="#fff" stroke="#1a1a1a" stroke-width="1.12" stroke-linejoin="round"/>
<ellipse cx="350.92" cy="285.9" rx="1.5" ry="2.6" transform="rotate(-32 350.92 285.9)" fill="#fff" stroke="#1a1a1a" stroke-width="1.12"/>
<path d="M317.69 308.2L351.61 287.01A0.75 1.3 -32 0 0 350.23 284.8L316.31 306Z" fill="#fff" stroke="#1a1a1a" stroke-width="1.12" stroke-linejoin="round"/>
<ellipse cx="317" cy="307.1" rx="0.75" ry="1.3" transform="rotate(-32 317 307.1)" fill="#fff" stroke="#1a1a1a" stroke-width="1.12"/>
<path d="M348.2 305.3L340.1 312.9" fill="none" stroke="#1a1a1a" stroke-width="0.84" stroke-linejoin="round"/>
<path d="M340.1 312.9L336.81 306.21" stroke="#1a1a1a" stroke-width="0.75" fill="none"/>
<path d="M334.5 301.5L339.96 307.17L337.08 306.75L335.65 309.29Z" fill="#111"/>
<path d="M417.1 222 L421 232.2 L442.4 301 C445 306 455 309 464 303 C469 300 471.5 296 472 293 C474 285 473 272 470 262 L463.5 241 L456 219 L440 205 L420 205 Z" fill="#fff" stroke="#1a1a1a" stroke-width="1.12" stroke-linejoin="round" stroke-linecap="round" />
<path d="M431.3 230.5 L452 302.5" fill="none" stroke="#1a1a1a" stroke-width="0.78" stroke-linejoin="round" stroke-linecap="round" />
<path d="M442.4 301 C445 306 455 309 464 303 C469 300 471.5 296 472 293" fill="none" stroke="#1a1a1a" stroke-width="1.79" stroke-linejoin="round" stroke-linecap="round" />
<path d="M431.3 230.5 C432 225 436 223.5 441 223 L456 220.7" fill="none" stroke="#1a1a1a" stroke-width="0.9" stroke-linejoin="round" stroke-linecap="round" />
<path d="M 426.72 168.1 L 443.97 162.41 C 446.55 161.72 449.14 162.93 450.86 165.52 C 452.59 168.1 453.45 170.69 453.62 173.28 C 456.03 171.03 459.83 170.34 462.93 172.41 C 468.97 176.72 473.62 185.34 475.86 193.1 C 477.59 200 476.72 206.9 473.28 212.07 C 469.83 216.38 462.93 218.62 456.03 220.34 L 437.07 224.48 C 434.48 224.83 432.76 223.79 431.9 220.69 L 430.52 203.45 L 430.52 187.07 L 426.72 177.59 Z" fill="#fff" stroke="#1a1a1a" stroke-width="1.12" stroke-linejoin="round" stroke-linecap="round" />
<path d="M 434.48 218.97 C 447.41 218.1 461.21 212.07 471.55 200.34" fill="none" stroke="#1a1a1a" stroke-width="0.78" stroke-linejoin="round" stroke-linecap="round" />
<path d="M 453.62 173.28 C 454.31 177.59 454.66 181.9 456.03 185.34 M 468.97 180.17 C 472.41 187.07 474.14 194.83 473.62 201.72" fill="none" stroke="#1a1a1a" stroke-width="0.78" stroke-linejoin="round" stroke-linecap="round" />
<path d="M 449.14 162.93 L 457.76 156.9" fill="none" stroke="#1a1a1a" stroke-width="0.78" stroke-linejoin="round" stroke-linecap="round" />
<path d="M 431.03 186.9 L 441.38 181.03 C 445.69 180.17 450.86 182.76 454.31 188.28 L 454.66 200 L 443.1 205.52 L 431.03 201.38 Z" fill="#fff" stroke="#1a1a1a" stroke-width="1.01" stroke-linejoin="round" stroke-linecap="round" />
<path d="M 431.03 186.9 C 435.34 185.34 440.52 187.07 443.1 192.24 L 443.1 205.52 M 443.1 192.24 L 454.31 188.28" fill="none" stroke="#1a1a1a" stroke-width="0.78" stroke-linejoin="round" stroke-linecap="round" />
<ellipse cx="436.55" cy="196.21" rx="3.62" ry="5" transform="rotate(0 436.55 196.21)" fill="#fff" stroke="#1a1a1a" stroke-width="0.9"/>
<ellipse cx="437.07" cy="196.55" rx="2.24" ry="3.28" transform="rotate(0 437.07 196.55)" fill="#fff" stroke="#1a1a1a" stroke-width="0.7"/>
<path d="M 385.69 191.38 L 395.34 178.45 L 399.14 175.86 L 426.72 168.1 L 430.52 177.59 L 430.52 187.07 L 430.52 203.45 L 416.38 209.48 L 402.59 209.48 L 399.14 201.72 Z" fill="#fff" stroke="#1a1a1a" stroke-width="1.12" stroke-linejoin="round" stroke-linecap="round" />
<path d="M 398.28 195.69 L 430.52 186.55" fill="none" stroke="#1a1a1a" stroke-width="0.9" stroke-linejoin="round" stroke-linecap="round" />
<path d="M 400.86 199.48 L 426.72 178.45" fill="none" stroke="#1a1a1a" stroke-width="0.56" stroke-linejoin="round" stroke-linecap="round" stroke-dasharray="9 2 2 2"/>
<path d="M 402.59 209.48 C 406.03 210.69 412.07 210.34 416.38 214.14" fill="none" stroke="#1a1a1a" stroke-width="0.78" stroke-linejoin="round" stroke-linecap="round" />
<ellipse cx="420.17" cy="172.59" rx="2.41" ry="1.47" transform="rotate(-8 420.17 172.59)" fill="#fff" stroke="#1a1a1a" stroke-width="0.9"/>
<ellipse cx="412.07" cy="190.69" rx="1.55" ry="2.07" transform="rotate(0 412.07 190.69)" fill="#fff" stroke="#1a1a1a" stroke-width="0.9"/>
<path d="M 413.62 191.55 L 470.86 223.79" fill="none" stroke="#1a1a1a" stroke-width="0.73" stroke-linejoin="round" stroke-linecap="round" />
<path d="M 399.14 175.86 L 399.14 169.31 C 399.48 165.86 402.59 162.76 407.41 162.41 C 412.59 162.41 417.24 165.17 418.97 168.97 L 419.14 172.76 C 415.52 175.86 404.31 177.24 399.14 175.86 Z" fill="#fff" stroke="#1a1a1a" stroke-width="1.12" stroke-linejoin="round" stroke-linecap="round" />
<path d="M 399.14 169.31 C 400.86 173.28 413.79 174.14 418.97 168.97" fill="none" stroke="#1a1a1a" stroke-width="0.67" stroke-linejoin="round" stroke-linecap="round" />
<ellipse cx="407.41" cy="167.07" rx="4.48" ry="2.59" transform="rotate(0 407.41 167.07)" fill="#999" stroke="#1a1a1a" stroke-width="0.9"/>
<ellipse cx="407.76" cy="167.41" rx="2.93" ry="1.55" transform="rotate(0 407.76 167.41)" fill="#bbb" stroke="#1a1a1a" stroke-width="0.5"/>
<path d="M 386.21 188.28 L 385.69 196.9 C 387.93 200 396.55 199.66 398.45 195.86 L 398.28 188.28 Z" fill="#fff" stroke="#1a1a1a" stroke-width="1.12" stroke-linejoin="round" stroke-linecap="round" />
<ellipse cx="392.24" cy="187.76" rx="6.03" ry="3.45" transform="rotate(0 392.24 187.76)" fill="#fff" stroke="#1a1a1a" stroke-width="1.0"/>
<ellipse cx="392.24" cy="187.76" rx="2.41" ry="1.47" transform="rotate(0 392.24 187.76)" fill="#999" stroke="#1a1a1a" stroke-width="0.9"/>
<path d="M 380.94 200.99 C 381.61 198.31 384.96 196.7 388.98 197.37 C 393.67 198.04 397.69 201.39 398.63 206.09 L 399.71 216.81 L 399.17 228.87 C 397.69 232.9 394.34 235.31 390.32 235.04 C 386.3 234.77 382.95 231.55 381.61 227.53 L 380.4 214.13 Z" fill="#fff" stroke="#1a1a1a" stroke-width="1.12" stroke-linejoin="round" stroke-linecap="round" />
<path d="M 382.28 201.26 C 382.95 199.12 385.63 198.04 388.98 198.58" fill="none" stroke="#1a1a1a" stroke-width="0.67" stroke-linejoin="round" stroke-linecap="round" />
<ellipse cx="388.45" cy="207.69" rx="4.56" ry="6.57" transform="rotate(12 388.45 207.69)" fill="#fff" stroke="#1a1a1a" stroke-width="1.0"/>
<ellipse cx="389.12" cy="222.44" rx="4.96" ry="6.97" transform="rotate(12 389.12 222.44)" fill="#fff" stroke="#1a1a1a" stroke-width="1.0"/>
<path d="M 385.23 212.12 C 386.3 208.1 390.32 205.82 392.73 207.16 M 385.23 227.27 C 386.57 223.24 390.59 220.83 393.27 222.17 M 384.29 206.09 L 386.97 210.11 M 384.96 220.56 L 387.64 225.12" fill="none" stroke="#1a1a1a" stroke-width="0.78" stroke-linejoin="round" stroke-linecap="round" />
<ellipse cx="424.31" cy="221.38" rx="5.34" ry="7.24" transform="rotate(22 424.31 221.38)" fill="#888" stroke="#1a1a1a" stroke-width="1.0"/>
<ellipse cx="424.83" cy="221.72" rx="3.62" ry="5.34" transform="rotate(22 424.83 221.72)" fill="#b5b5b5" stroke="#1a1a1a" stroke-width="0.6"/>
<path d="M 365.12 208.1 C 366.19 205.82 368.2 204.75 370.21 205.01 C 374.24 205.42 376.92 207.43 378.53 210.38 C 380.67 214.8 381.74 219.49 381.61 224.18 L 380.94 235.58 C 379.87 239.6 377.59 241.74 375.31 241.61 C 371.55 241.21 368.2 238.53 366.46 234.91 C 364.58 230.21 363.51 225.52 363.51 220.83 Z" fill="#fff" stroke="#1a1a1a" stroke-width="1.23" stroke-linejoin="round" stroke-linecap="round" />
<ellipse cx="372.23" cy="216.27" rx="5.36" ry="7.51" transform="rotate(20 372.23 216.27)" fill="#fff" stroke="#1a1a1a" stroke-width="1.0"/>
<ellipse cx="372.36" cy="231.82" rx="5.76" ry="8.04" transform="rotate(16 372.36 231.82)" fill="#fff" stroke="#1a1a1a" stroke-width="1.0"/>
<path d="M349.1 209.71L358.79 214.48" stroke="#1a1a1a" stroke-width="0.75" fill="none"/>
<path d="M363.5 216.8L355.71 215.64L358.25 214.21L357.83 211.33Z" fill="#111"/>
<ellipse cx="404.29" cy="250.91" rx="2.15" ry="4.3" transform="rotate(-32 404.29 250.91)" fill="#fff" stroke="#1a1a1a" stroke-width="1.06"/>
<ellipse cx="401.95" cy="252.37" rx="2.15" ry="4.3" transform="rotate(-32 401.95 252.37)" fill="#fff" stroke="#1a1a1a" stroke-width="1.06"/>
<ellipse cx="399.62" cy="253.83" rx="2.15" ry="4.3" transform="rotate(-32 399.62 253.83)" fill="#fff" stroke="#1a1a1a" stroke-width="1.06"/>
<ellipse cx="397.29" cy="255.28" rx="2.15" ry="4.3" transform="rotate(-32 397.29 255.28)" fill="#fff" stroke="#1a1a1a" stroke-width="1.06"/>
<ellipse cx="394.96" cy="256.74" rx="2.15" ry="4.3" transform="rotate(-32 394.96 256.74)" fill="#fff" stroke="#1a1a1a" stroke-width="1.06"/>
<ellipse cx="392.62" cy="258.2" rx="2.15" ry="4.3" transform="rotate(-32 392.62 258.2)" fill="#fff" stroke="#1a1a1a" stroke-width="1.06"/>
<ellipse cx="390.29" cy="259.66" rx="2.15" ry="4.3" transform="rotate(-32 390.29 259.66)" fill="#fff" stroke="#1a1a1a" stroke-width="1.06"/>
<ellipse cx="387.96" cy="261.11" rx="2.15" ry="4.3" transform="rotate(-32 387.96 261.11)" fill="#fff" stroke="#1a1a1a" stroke-width="1.06"/>
<ellipse cx="385.63" cy="262.57" rx="2.15" ry="4.3" transform="rotate(-32 385.63 262.57)" fill="#fff" stroke="#1a1a1a" stroke-width="1.06"/>
<ellipse cx="383.3" cy="264.03" rx="2.15" ry="4.3" transform="rotate(-32 383.3 264.03)" fill="#fff" stroke="#1a1a1a" stroke-width="1.06"/>
<ellipse cx="380.96" cy="265.49" rx="2.15" ry="4.3" transform="rotate(-32 380.96 265.49)" fill="#fff" stroke="#1a1a1a" stroke-width="1.06"/>
<ellipse cx="378.63" cy="266.94" rx="2.15" ry="4.3" transform="rotate(-32 378.63 266.94)" fill="#fff" stroke="#1a1a1a" stroke-width="1.06"/>
<ellipse cx="376.3" cy="268.4" rx="2.15" ry="4.3" transform="rotate(-32 376.3 268.4)" fill="#fff" stroke="#1a1a1a" stroke-width="1.06"/>
<path d="M404.35 268.57L397.13 267.01" stroke="#1a1a1a" stroke-width="0.75" fill="none"/>
<path d="M392 265.9L399.84 265.14L397.72 267.13L398.83 269.83Z" fill="#111"/>
<ellipse cx="369.5" cy="274.5" rx="3.23" ry="5.6" transform="rotate(-32 369.5 274.5)" fill="none" stroke="#1a1a1a" stroke-width="1.79"/>
<ellipse cx="369.5" cy="274.5" rx="2.08" ry="3.6" transform="rotate(-32 369.5 274.5)" fill="none" stroke="#1a1a1a" stroke-width="0.67"/>
<path d="M387.31 281.49L381.47 280.43" stroke="#1a1a1a" stroke-width="0.75" fill="none"/>
<path d="M376.3 279.5L384.11 278.47L382.06 280.54L383.25 283.2Z" fill="#111"/>
<path d="M406.5 248.6L413 244.8L413 224.1L418.7 220.7" fill="none" stroke="#1a1a1a" stroke-width="0.84" stroke-linejoin="round"/>
<path d="M481.53 226.97L472.87 221.97A1.38 2.4 -150 0 0 470.47 226.13L479.13 231.13Z" fill="#888" stroke="#1a1a1a" stroke-width="1.12" stroke-linejoin="round"/>
<path d="M481.53 226.97A1.38 2.4 -150 0 0 479.13 231.13" fill="none" stroke="#1a1a1a" stroke-width="0.56"/>
<path d="M480.09 226.14A1.38 2.4 -150 0 0 477.69 230.3" fill="none" stroke="#1a1a1a" stroke-width="0.56"/>
<path d="M478.65 225.3A1.38 2.4 -150 0 0 476.25 229.46" fill="none" stroke="#1a1a1a" stroke-width="0.56"/>
<path d="M477.2 224.47A1.38 2.4 -150 0 0 474.8 228.63" fill="none" stroke="#1a1a1a" stroke-width="0.56"/>
<path d="M475.76 223.64A1.38 2.4 -150 0 0 473.36 227.8" fill="none" stroke="#1a1a1a" stroke-width="0.56"/>
<path d="M474.32 222.8A1.38 2.4 -150 0 0 471.92 226.96" fill="none" stroke="#1a1a1a" stroke-width="0.56"/>
<ellipse cx="480.33" cy="229.05" rx="1.38" ry="2.4" transform="rotate(-150 480.33 229.05)" fill="#888" stroke="#1a1a1a" stroke-width="1.12"/>
<path d="M484.8 226.32L482.63 225.07A2.65 4.6 -150 0 0 478.03 233.03L480.2 234.28Z" fill="#fff" stroke="#1a1a1a" stroke-width="1.12" stroke-linejoin="round"/>
<ellipse cx="482.5" cy="230.3" rx="2.65" ry="4.6" transform="rotate(-150 482.5 230.3)" fill="#fff" stroke="#1a1a1a" stroke-width="1.12"/>
<path d="M480.4 233.8 L484.8 226.6" fill="none" stroke="#1a1a1a" stroke-width="1.01" stroke-linejoin="round" stroke-linecap="round" />
<path d="M491.69 248.36L487.86 241.49" stroke="#1a1a1a" stroke-width="0.75" fill="none"/>
<path d="M485.3 236.9L491.05 242.28L488.15 242.01L486.86 244.62Z" fill="#111"/>
<path d="M487.5 299.33L476.97 297.5" stroke="#1a1a1a" stroke-width="0.75" fill="none"/>
<path d="M471.8 296.6L479.6 295.52L477.56 297.6L478.78 300.25Z" fill="#111"/>
<path d="M450.9 308L460.2 347" fill="none" stroke="#1a1a1a" stroke-width="0.84" stroke-dasharray="2.2 1.6" stroke-linejoin="round"/>
<path d="M464.6 306.8L479 402" fill="none" stroke="#1a1a1a" stroke-width="0.84" stroke-dasharray="2.2 1.6" stroke-linejoin="round"/>
<path d="M117.5 288L138.75 275.5L138.75 324.5L86.25 357" fill="none" stroke="#1a1a1a" stroke-width="0.84" stroke-linejoin="round"/>
<path d="M86.25 357L67.5 368.75" fill="none" stroke="#1a1a1a" stroke-width="0.84" stroke-dasharray="8 3 2 3" stroke-linejoin="round"/>
<path d="M67.5 368.75L12.5 405L12.5 438.4L24 432" fill="none" stroke="#1a1a1a" stroke-width="0.84" stroke-linejoin="round"/>
<path d="M24.1 437.7L35.3 442L68.4 421.6L59.2 418.5" fill="none" stroke="#1a1a1a" stroke-width="0.84" stroke-linejoin="round"/>
<path d="M54.4 437.8L46.3 436.5" fill="none" stroke="#1a1a1a" stroke-width="0.84" stroke-linejoin="round"/>
<path d="M40.65 362.01L55.37 355.76A17.43 27.5 -23 0 0 33.88 305.13L19.15 311.39Z" fill="#fff" stroke="#1a1a1a" stroke-width="0.9"/>
<path d="M19.15 311.39L33.88 305.13" stroke="#1a1a1a" stroke-width="0.6" fill="none"/>
<path d="M20.38 310.95L35.11 304.7" stroke="#1a1a1a" stroke-width="0.6" fill="none"/>
<path d="M21.67 310.65L36.39 304.4" stroke="#1a1a1a" stroke-width="0.6" fill="none"/>
<path d="M23 310.5L37.72 304.25" stroke="#1a1a1a" stroke-width="0.6" fill="none"/>
<path d="M24.36 310.5L39.09 304.25" stroke="#1a1a1a" stroke-width="0.6" fill="none"/>
<path d="M25.76 310.65L40.49 304.4" stroke="#1a1a1a" stroke-width="0.6" fill="none"/>
<path d="M27.18 310.94L41.91 304.69" stroke="#1a1a1a" stroke-width="0.6" fill="none"/>
<path d="M28.62 311.37L43.35 305.12" stroke="#1a1a1a" stroke-width="0.6" fill="none"/>
<path d="M30.06 311.95L44.79 305.7" stroke="#1a1a1a" stroke-width="0.6" fill="none"/>
<path d="M31.51 312.66L46.23 306.41" stroke="#1a1a1a" stroke-width="0.6" fill="none"/>
<path d="M32.94 313.51L47.67 307.26" stroke="#1a1a1a" stroke-width="0.6" fill="none"/>
<path d="M34.36 314.49L49.08 308.24" stroke="#1a1a1a" stroke-width="0.6" fill="none"/>
<path d="M35.75 315.59L50.48 309.34" stroke="#1a1a1a" stroke-width="0.6" fill="none"/>
<path d="M37.11 316.81L51.84 310.56" stroke="#1a1a1a" stroke-width="0.6" fill="none"/>
<path d="M38.43 318.14L53.15 311.89" stroke="#1a1a1a" stroke-width="0.6" fill="none"/>
<path d="M39.7 319.58L54.43 313.33" stroke="#1a1a1a" stroke-width="0.6" fill="none"/>
<path d="M40.91 321.11L55.64 314.86" stroke="#1a1a1a" stroke-width="0.6" fill="none"/>
<path d="M42.07 322.73L56.8 316.48" stroke="#1a1a1a" stroke-width="0.6" fill="none"/>
<path d="M43.16 324.43L57.88 318.17" stroke="#1a1a1a" stroke-width="0.6" fill="none"/>
<path d="M44.17 326.19L58.9 319.94" stroke="#1a1a1a" stroke-width="0.6" fill="none"/>
<path d="M45.1 328.01L59.83 321.76" stroke="#1a1a1a" stroke-width="0.6" fill="none"/>
<path d="M45.95 329.89L60.68 323.64" stroke="#1a1a1a" stroke-width="0.6" fill="none"/>
<path d="M46.71 331.8L61.44 325.55" stroke="#1a1a1a" stroke-width="0.6" fill="none"/>
<path d="M47.37 333.74L62.1 327.48" stroke="#1a1a1a" stroke-width="0.6" fill="none"/>
<path d="M47.94 335.69L62.67 329.44" stroke="#1a1a1a" stroke-width="0.6" fill="none"/>
<path d="M48.4 337.65L63.13 331.4" stroke="#1a1a1a" stroke-width="0.6" fill="none"/>
<path d="M48.77 339.61L63.49 333.36" stroke="#1a1a1a" stroke-width="0.6" fill="none"/>
<path d="M49.02 341.55L63.75 335.29" stroke="#1a1a1a" stroke-width="0.6" fill="none"/>
<path d="M49.17 343.46L63.9 337.21" stroke="#1a1a1a" stroke-width="0.6" fill="none"/>
<path d="M49.21 345.33L63.94 339.08" stroke="#1a1a1a" stroke-width="0.6" fill="none"/>
<path d="M49.15 347.16L63.88 340.91" stroke="#1a1a1a" stroke-width="0.6" fill="none"/>
<path d="M48.97 348.92L63.7 342.67" stroke="#1a1a1a" stroke-width="0.6" fill="none"/>
<path d="M48.69 350.62L63.42 344.37" stroke="#1a1a1a" stroke-width="0.6" fill="none"/>
<path d="M48.31 352.24L63.04 345.99" stroke="#1a1a1a" stroke-width="0.6" fill="none"/>
<path d="M47.82 353.78L62.55 347.53" stroke="#1a1a1a" stroke-width="0.6" fill="none"/>
<path d="M47.23 355.22L61.96 348.96" stroke="#1a1a1a" stroke-width="0.6" fill="none"/>
<path d="M46.54 356.55L61.27 350.3" stroke="#1a1a1a" stroke-width="0.6" fill="none"/>
<path d="M45.77 357.78L60.49 351.52" stroke="#1a1a1a" stroke-width="0.6" fill="none"/>
<path d="M44.9 358.88L59.63 352.63" stroke="#1a1a1a" stroke-width="0.6" fill="none"/>
<path d="M43.95 359.86L58.68 353.61" stroke="#1a1a1a" stroke-width="0.6" fill="none"/>
<path d="M42.92 360.72L57.65 354.46" stroke="#1a1a1a" stroke-width="0.6" fill="none"/>
<path d="M41.81 361.43L56.54 355.18" stroke="#1a1a1a" stroke-width="0.6" fill="none"/>
<path d="M40.65 362.01L55.37 355.76" stroke="#1a1a1a" stroke-width="0.6" fill="none"/>
<ellipse cx="29.9" cy="336.7" rx="17.43" ry="27.5" transform="rotate(-23 29.9 336.7)" fill="#fff" stroke="#1a1a1a" stroke-width="1.01"/>
<clipPath id="cp1"><ellipse cx="29.9" cy="336.7" rx="14.33" ry="22.6" transform="rotate(-23 29.9 336.7)"/></clipPath>
<ellipse cx="29.9" cy="336.7" rx="14.33" ry="22.6" transform="rotate(-23 29.9 336.7)" fill="#8a8a8a" stroke="#1a1a1a" stroke-width="0.81"/>
<g clip-path="url(#cp1)">
<ellipse cx="34.96" cy="334.55" rx="13.9" ry="21.92" transform="rotate(-23 34.96 334.55)" fill="#fff" stroke="#1a1a1a" stroke-width="0.78"/>
</g>
<ellipse cx="29.9" cy="336.7" rx="14.33" ry="22.6" transform="rotate(-23 29.9 336.7)" fill="none" stroke="#1a1a1a" stroke-width="0.81"/>
<ellipse cx="29.9" cy="336.7" rx="15.6" ry="24.6" transform="rotate(-23 29.9 336.7)" fill="none" stroke="#1a1a1a" stroke-width="0.78"/>
<path d="M20.64 290.8L20.54 303.25" stroke="#1a1a1a" stroke-width="0.75" fill="none"/>
<path d="M20.5 308.5L18.16 300.98L20.55 302.65L22.96 301.02Z" fill="#111"/>
<path d="M 84.13 278.4 C 86.81 275.72 90.16 274.12 93.51 274.12 C 98.87 274.12 103.57 275.72 106.25 277.73 C 111.61 282.43 114.96 287.12 116.97 292.48 C 118.98 297.84 119.92 303.87 118.98 307.9 C 117.91 312.59 114.29 315.94 109.6 317.95 L 100.21 321.3 L 90.16 321.97 L 88.82 324.65 L 84.13 327.33 L 78.1 323.98 L 76.76 319.29 L 78.1 314.6 C 76.09 309.24 75.28 299.85 75.55 291.81 C 75.82 287.12 76.76 284.44 77.69 283.5 Z" fill="#fff" stroke="#1a1a1a" stroke-width="1.12" stroke-linejoin="round" stroke-linecap="round" />
<path d="M 84.13 278.4 C 86.81 277.06 90.16 275.72 93.51 275.72 C 98.2 275.72 102.63 277.33 104.91 279.08 C 109.6 283.1 112.95 287.79 114.96 293.15 C 116.84 298.51 117.64 303.87 116.84 307.36 C 116.03 311.25 112.95 314.33 108.26 316.61" fill="none" stroke="#1a1a1a" stroke-width="0.9" stroke-linejoin="round" stroke-linecap="round" />
<path d="M 77.69 283.5 C 80.11 282.16 82.52 282.43 84.13 278.4 M 82.12 283.77 L 85.47 285.11 L 84.8 288.06 L 81.45 287.25 M 80.78 286.45 C 80.11 289.13 80.11 291.81 80.11 293.82 L 82.25 295.29 L 82.12 309.24 C 84.13 312.59 86.81 313.53 88.82 313.26" fill="none" stroke="#1a1a1a" stroke-width="0.78" stroke-linejoin="round" stroke-linecap="round" />
<path d="M 88.82 289.8 C 91.5 288.59 94.18 289.13 98.87 293.82 C 102.9 298.51 106.25 305.21 106.65 311.25 C 106.92 314.6 106.65 317.28 106.25 318.89 M 98.2 298.51 L 98.2 320.9 M 82.25 295.29 C 84.8 292.48 86.81 291.14 88.82 289.8" fill="none" stroke="#1a1a1a" stroke-width="0.78" stroke-linejoin="round" stroke-linecap="round" />
<ellipse cx="88.82" cy="303.2" rx="4.96" ry="6.7" transform="rotate(8 88.82 303.2)" fill="#fff" stroke="#1a1a1a" stroke-width="0.9"/>
<ellipse cx="89.22" cy="303.47" rx="3.35" ry="4.83" transform="rotate(8 89.22 303.47)" fill="#ddd" stroke="#1a1a1a" stroke-width="0.8"/>
<ellipse cx="89.76" cy="303.87" rx="2.28" ry="3.49" transform="rotate(8 89.76 303.87)" fill="#fff" stroke="#1a1a1a" stroke-width="0.6"/>
<path d="M 76.76 319.29 L 84.13 316.61 L 90.16 318.62 M 84.13 316.61 L 88.82 313.26 M 90.16 318.62 L 94.85 309.91" fill="none" stroke="#1a1a1a" stroke-width="0.78" stroke-linejoin="round" stroke-linecap="round" />
<ellipse cx="82.25" cy="319.96" rx="2.41" ry="1.21" transform="rotate(-15 82.25 319.96)" fill="#ccc" stroke="#1a1a1a" stroke-width="0.8"/>
<path d="M116.09 264.7L108.79 271.67" stroke="#1a1a1a" stroke-width="0.75" fill="none"/>
<path d="M105 275.3L108.76 268.38L109.23 271.26L112.08 271.85Z" fill="#111"/>
<path d="M 51.25 296.5 L 59.25 293 L 67 298 M 59.25 293 L 59.25 309.5 L 65.5 314.5" fill="none" stroke="#1a1a1a" stroke-width="0.78" stroke-linejoin="round" stroke-linecap="round" />
<path d="M 68 301 L 69.75 305 L 69.75 309 L 66.25 309 L 66.25 305 Z" fill="#555" stroke="#1a1a1a" stroke-width="0.9" stroke-linejoin="round" stroke-linecap="round" />
<ellipse cx="68" cy="309.5" rx="2.25" ry="1" transform="rotate(0 68 309.5)" fill="#fff" stroke="#1a1a1a" stroke-width="0.8"/>
<ellipse cx="68" cy="313" rx="2.25" ry="1.12" transform="rotate(0 68 313)" fill="#fff" stroke="#1a1a1a" stroke-width="1.0"/>
<path d="M81.8 337.5L68 332.5" fill="none" stroke="#1a1a1a" stroke-width="0.84" stroke-linejoin="round"/>
<path d="M68 332.5L68 322.45" stroke="#1a1a1a" stroke-width="0.75" fill="none"/>
<path d="M68 317.2L70.4 324.7L68 323.05L65.6 324.7Z" fill="#111"/>
<path d="M 158.28 321.03 L 160.86 317.24 L 178.1 307.76 C 182.41 306.03 190.17 306.03 194.48 307.76 L 213.45 325.86 C 216.03 329.31 216.38 334.48 214.66 337.59 L 199.66 350.34 L 185 356.9 L 169.48 327.59 Z" fill="#fff" stroke="#1a1a1a" stroke-width="1.12" stroke-linejoin="round" stroke-linecap="round" />
<path d="M 160.86 317.24 L 167.41 323.79 L 185.34 313.45 C 187.59 312.07 191.55 312.41 193.62 314.14 M 172.07 311.21 L 175 313.79" fill="none" stroke="#1a1a1a" stroke-width="0.78" stroke-linejoin="round" stroke-linecap="round" />
<path d="M 184.14 330.34 L 201.38 320.69" fill="none" stroke="#1a1a1a" stroke-width="1.46" stroke-linejoin="round" stroke-linecap="round" />
<path d="M163.88 324.42L163.91 318.71" fill="none" stroke="#1a1a1a" stroke-width="0.56" stroke-linejoin="round"/>
<path d="M165.23 324.4L165.59 318.85" fill="none" stroke="#1a1a1a" stroke-width="0.56" stroke-linejoin="round"/>
<path d="M166.62 324.55L167.3 319.15" fill="none" stroke="#1a1a1a" stroke-width="0.56" stroke-linejoin="round"/>
<path d="M168.04 324.88L169.02 319.63" fill="none" stroke="#1a1a1a" stroke-width="0.56" stroke-linejoin="round"/>
<path d="M169.47 325.39L170.75 320.26" fill="none" stroke="#1a1a1a" stroke-width="0.56" stroke-linejoin="round"/>
<path d="M170.91 326.07L172.48 321.06" fill="none" stroke="#1a1a1a" stroke-width="0.56" stroke-linejoin="round"/>
<path d="M172.34 326.91L174.21 322.01" fill="none" stroke="#1a1a1a" stroke-width="0.56" stroke-linejoin="round"/>
<path d="M173.76 327.91L175.94 323.12" fill="none" stroke="#1a1a1a" stroke-width="0.56" stroke-linejoin="round"/>
<path d="M175.15 329.07L177.66 324.39" fill="none" stroke="#1a1a1a" stroke-width="0.56" stroke-linejoin="round"/>
<path d="M176.5 330.37L179.36 325.81" fill="none" stroke="#1a1a1a" stroke-width="0.56" stroke-linejoin="round"/>
<path d="M177.8 331.8L181.04 327.41" fill="none" stroke="#1a1a1a" stroke-width="0.56" stroke-linejoin="round"/>
<path d="M179.04 333.35L182.69 329.16" fill="none" stroke="#1a1a1a" stroke-width="0.56" stroke-linejoin="round"/>
<path d="M180.21 335.02L184.29 331.07" fill="none" stroke="#1a1a1a" stroke-width="0.56" stroke-linejoin="round"/>
<path d="M181.31 336.78L185.84 333.14" fill="none" stroke="#1a1a1a" stroke-width="0.56" stroke-linejoin="round"/>
<path d="M182.32 338.63L187.32 335.36" fill="none" stroke="#1a1a1a" stroke-width="0.56" stroke-linejoin="round"/>
<path d="M183.24 340.55L188.72 337.73" fill="none" stroke="#1a1a1a" stroke-width="0.56" stroke-linejoin="round"/>
<path d="M184.05 342.52L190.01 340.23" fill="none" stroke="#1a1a1a" stroke-width="0.56" stroke-linejoin="round"/>
<path d="M184.77 344.53L190.72 342.96" fill="none" stroke="#1a1a1a" stroke-width="0.56" stroke-linejoin="round"/>
<path d="M185.37 346.57L191.27 345.65" fill="none" stroke="#1a1a1a" stroke-width="0.56" stroke-linejoin="round"/>
<path d="M185.85 348.62L191.66 348.29" fill="none" stroke="#1a1a1a" stroke-width="0.56" stroke-linejoin="round"/>
<path d="M186.22 350.66L191.89 350.87" fill="none" stroke="#1a1a1a" stroke-width="0.56" stroke-linejoin="round"/>
<path d="M171.23 375.93L176.83 373.78A16.23 26.6 -21 0 0 157.77 324.12L152.17 326.27Z" fill="#fff" stroke="#1a1a1a" stroke-width="1"/>
<path d="M152.17 326.27L157.77 324.12" fill="none" stroke="#1a1a1a" stroke-width="0.62" stroke-linejoin="round"/>
<path d="M152.9 326.02L158.5 323.87" fill="none" stroke="#1a1a1a" stroke-width="0.62" stroke-linejoin="round"/>
<path d="M153.65 325.83L159.25 323.68" fill="none" stroke="#1a1a1a" stroke-width="0.62" stroke-linejoin="round"/>
<path d="M154.42 325.69L160.02 323.54" fill="none" stroke="#1a1a1a" stroke-width="0.62" stroke-linejoin="round"/>
<path d="M155.21 325.62L160.81 323.46" fill="none" stroke="#1a1a1a" stroke-width="0.62" stroke-linejoin="round"/>
<path d="M156.01 325.6L161.61 323.45" fill="none" stroke="#1a1a1a" stroke-width="0.62" stroke-linejoin="round"/>
<path d="M156.82 325.63L162.42 323.48" fill="none" stroke="#1a1a1a" stroke-width="0.62" stroke-linejoin="round"/>
<path d="M157.65 325.73L163.25 323.58" fill="none" stroke="#1a1a1a" stroke-width="0.62" stroke-linejoin="round"/>
<path d="M158.48 325.88L164.08 323.73" fill="none" stroke="#1a1a1a" stroke-width="0.62" stroke-linejoin="round"/>
<path d="M159.32 326.1L164.92 323.95" fill="none" stroke="#1a1a1a" stroke-width="0.62" stroke-linejoin="round"/>
<path d="M160.17 326.36L165.77 324.21" fill="none" stroke="#1a1a1a" stroke-width="0.62" stroke-linejoin="round"/>
<path d="M161.02 326.69L166.62 324.54" fill="none" stroke="#1a1a1a" stroke-width="0.62" stroke-linejoin="round"/>
<path d="M161.87 327.07L167.47 324.91" fill="none" stroke="#1a1a1a" stroke-width="0.62" stroke-linejoin="round"/>
<path d="M162.72 327.5L168.32 325.35" fill="none" stroke="#1a1a1a" stroke-width="0.62" stroke-linejoin="round"/>
<path d="M163.57 327.99L169.17 325.84" fill="none" stroke="#1a1a1a" stroke-width="0.62" stroke-linejoin="round"/>
<path d="M164.42 328.52L170.02 326.37" fill="none" stroke="#1a1a1a" stroke-width="0.62" stroke-linejoin="round"/>
<path d="M165.25 329.11L170.86 326.96" fill="none" stroke="#1a1a1a" stroke-width="0.62" stroke-linejoin="round"/>
<path d="M166.09 329.75L171.69 327.6" fill="none" stroke="#1a1a1a" stroke-width="0.62" stroke-linejoin="round"/>
<path d="M166.91 330.44L172.51 328.29" fill="none" stroke="#1a1a1a" stroke-width="0.62" stroke-linejoin="round"/>
<path d="M167.71 331.18L173.32 329.03" fill="none" stroke="#1a1a1a" stroke-width="0.62" stroke-linejoin="round"/>
<path d="M168.51 331.96L174.11 329.81" fill="none" stroke="#1a1a1a" stroke-width="0.62" stroke-linejoin="round"/>
<path d="M169.29 332.78L174.89 330.63" fill="none" stroke="#1a1a1a" stroke-width="0.62" stroke-linejoin="round"/>
<path d="M170.05 333.65L175.65 331.5" fill="none" stroke="#1a1a1a" stroke-width="0.62" stroke-linejoin="round"/>
<path d="M170.8 334.55L176.4 332.4" fill="none" stroke="#1a1a1a" stroke-width="0.62" stroke-linejoin="round"/>
<path d="M171.52 335.49L177.12 333.34" fill="none" stroke="#1a1a1a" stroke-width="0.62" stroke-linejoin="round"/>
<path d="M172.22 336.47L177.82 334.32" fill="none" stroke="#1a1a1a" stroke-width="0.62" stroke-linejoin="round"/>
<path d="M172.9 337.48L178.5 335.33" fill="none" stroke="#1a1a1a" stroke-width="0.62" stroke-linejoin="round"/>
<path d="M173.55 338.52L179.15 336.37" fill="none" stroke="#1a1a1a" stroke-width="0.62" stroke-linejoin="round"/>
<path d="M174.17 339.59L179.78 337.44" fill="none" stroke="#1a1a1a" stroke-width="0.62" stroke-linejoin="round"/>
<path d="M174.77 340.69L180.37 338.54" fill="none" stroke="#1a1a1a" stroke-width="0.62" stroke-linejoin="round"/>
<path d="M175.34 341.81L180.94 339.66" fill="none" stroke="#1a1a1a" stroke-width="0.62" stroke-linejoin="round"/>
<path d="M175.87 342.95L181.48 340.8" fill="none" stroke="#1a1a1a" stroke-width="0.62" stroke-linejoin="round"/>
<path d="M176.38 344.11L181.98 341.96" fill="none" stroke="#1a1a1a" stroke-width="0.62" stroke-linejoin="round"/>
<path d="M176.85 345.29L182.45 343.13" fill="none" stroke="#1a1a1a" stroke-width="0.62" stroke-linejoin="round"/>
<path d="M177.28 346.47L182.89 344.32" fill="none" stroke="#1a1a1a" stroke-width="0.62" stroke-linejoin="round"/>
<path d="M177.69 347.67L183.29 345.52" fill="none" stroke="#1a1a1a" stroke-width="0.62" stroke-linejoin="round"/>
<path d="M178.05 348.88L183.65 346.73" fill="none" stroke="#1a1a1a" stroke-width="0.62" stroke-linejoin="round"/>
<path d="M178.38 350.09L183.98 347.94" fill="none" stroke="#1a1a1a" stroke-width="0.62" stroke-linejoin="round"/>
<path d="M178.67 351.3L184.27 349.15" fill="none" stroke="#1a1a1a" stroke-width="0.62" stroke-linejoin="round"/>
<path d="M178.92 352.52L184.52 350.37" fill="none" stroke="#1a1a1a" stroke-width="0.62" stroke-linejoin="round"/>
<path d="M179.13 353.73L184.73 351.58" fill="none" stroke="#1a1a1a" stroke-width="0.62" stroke-linejoin="round"/>
<path d="M179.31 354.93L184.91 352.78" fill="none" stroke="#1a1a1a" stroke-width="0.62" stroke-linejoin="round"/>
<path d="M179.44 356.13L185.04 353.98" fill="none" stroke="#1a1a1a" stroke-width="0.62" stroke-linejoin="round"/>
<path d="M179.53 357.31L185.13 355.16" fill="none" stroke="#1a1a1a" stroke-width="0.62" stroke-linejoin="round"/>
<path d="M179.59 358.48L185.19 356.33" fill="none" stroke="#1a1a1a" stroke-width="0.62" stroke-linejoin="round"/>
<path d="M179.6 359.63L185.2 357.48" fill="none" stroke="#1a1a1a" stroke-width="0.62" stroke-linejoin="round"/>
<path d="M179.57 360.77L185.17 358.62" fill="none" stroke="#1a1a1a" stroke-width="0.62" stroke-linejoin="round"/>
<path d="M179.5 361.88L185.1 359.73" fill="none" stroke="#1a1a1a" stroke-width="0.62" stroke-linejoin="round"/>
<path d="M179.39 362.97L184.99 360.82" fill="none" stroke="#1a1a1a" stroke-width="0.62" stroke-linejoin="round"/>
<path d="M179.24 364.03L184.84 361.88" fill="none" stroke="#1a1a1a" stroke-width="0.62" stroke-linejoin="round"/>
<path d="M179.05 365.06L184.65 362.91" fill="none" stroke="#1a1a1a" stroke-width="0.62" stroke-linejoin="round"/>
<path d="M178.82 366.06L184.43 363.91" fill="none" stroke="#1a1a1a" stroke-width="0.62" stroke-linejoin="round"/>
<path d="M178.56 367.03L184.16 364.88" fill="none" stroke="#1a1a1a" stroke-width="0.62" stroke-linejoin="round"/>
<path d="M178.25 367.96L183.85 365.81" fill="none" stroke="#1a1a1a" stroke-width="0.62" stroke-linejoin="round"/>
<path d="M177.91 368.85L183.51 366.7" fill="none" stroke="#1a1a1a" stroke-width="0.62" stroke-linejoin="round"/>
<path d="M177.53 369.7L183.13 367.55" fill="none" stroke="#1a1a1a" stroke-width="0.62" stroke-linejoin="round"/>
<path d="M177.11 370.51L182.72 368.36" fill="none" stroke="#1a1a1a" stroke-width="0.62" stroke-linejoin="round"/>
<path d="M176.66 371.27L182.27 369.12" fill="none" stroke="#1a1a1a" stroke-width="0.62" stroke-linejoin="round"/>
<path d="M176.18 371.99L181.78 369.84" fill="none" stroke="#1a1a1a" stroke-width="0.62" stroke-linejoin="round"/>
<path d="M175.66 372.67L181.26 370.52" fill="none" stroke="#1a1a1a" stroke-width="0.62" stroke-linejoin="round"/>
<path d="M175.11 373.29L180.72 371.14" fill="none" stroke="#1a1a1a" stroke-width="0.62" stroke-linejoin="round"/>
<path d="M174.54 373.86L180.14 371.71" fill="none" stroke="#1a1a1a" stroke-width="0.62" stroke-linejoin="round"/>
<path d="M173.93 374.38L179.53 372.23" fill="none" stroke="#1a1a1a" stroke-width="0.62" stroke-linejoin="round"/>
<path d="M173.29 374.85L178.89 372.7" fill="none" stroke="#1a1a1a" stroke-width="0.62" stroke-linejoin="round"/>
<path d="M172.63 375.27L178.23 373.12" fill="none" stroke="#1a1a1a" stroke-width="0.62" stroke-linejoin="round"/>
<path d="M171.94 375.63L177.54 373.48" fill="none" stroke="#1a1a1a" stroke-width="0.62" stroke-linejoin="round"/>
<path d="M171.23 375.93L176.83 373.78" fill="none" stroke="#1a1a1a" stroke-width="0.62" stroke-linejoin="round"/>
<ellipse cx="161.7" cy="351.1" rx="16.23" ry="26.6" transform="rotate(-21 161.7 351.1)" fill="#fff" stroke="#1a1a1a" stroke-width="1.12"/>
<ellipse cx="161.53" cy="351.16" rx="15.13" ry="24.8" transform="rotate(-21 161.53 351.16)" fill="none" stroke="#1a1a1a" stroke-width="1.46"/>
<ellipse cx="161.31" cy="351.25" rx="13.66" ry="22.4" transform="rotate(-21 161.31 351.25)" fill="none" stroke="#1a1a1a" stroke-width="1.46"/>
<ellipse cx="161.07" cy="351.34" rx="12.08" ry="19.8" transform="rotate(-21 161.07 351.34)" fill="none" stroke="#1a1a1a" stroke-width="1.23"/>
<ellipse cx="160.79" cy="351.45" rx="10.25" ry="16.8" transform="rotate(-21 160.79 351.45)" fill="none" stroke="#1a1a1a" stroke-width="0.9"/>
<path d="M161.33 361.31L164.6 360.05A5.42 9.4 -21 0 0 157.86 342.5L154.6 343.76Z" fill="#fff" stroke="#1a1a1a" stroke-width="1.12" stroke-linejoin="round"/>
<ellipse cx="157.97" cy="352.53" rx="5.42" ry="9.4" transform="rotate(-21 157.97 352.53)" fill="#fff" stroke="#1a1a1a" stroke-width="1.12"/>
<path d="M157.68 346.15L157.6 344.51" fill="none" stroke="#1a1a1a" stroke-width="0.56" stroke-linejoin="round"/>
<path d="M158.62 346.71L158.79 345.21" fill="none" stroke="#1a1a1a" stroke-width="0.56" stroke-linejoin="round"/>
<path d="M159.54 347.52L159.95 346.23" fill="none" stroke="#1a1a1a" stroke-width="0.56" stroke-linejoin="round"/>
<path d="M160.39 348.55L161.01 347.53" fill="none" stroke="#1a1a1a" stroke-width="0.56" stroke-linejoin="round"/>
<path d="M161.13 349.76L161.95 349.05" fill="none" stroke="#1a1a1a" stroke-width="0.56" stroke-linejoin="round"/>
<path d="M161.74 351.09L162.71 350.71" fill="none" stroke="#1a1a1a" stroke-width="0.56" stroke-linejoin="round"/>
<path d="M162.18 352.48L163.26 352.46" fill="none" stroke="#1a1a1a" stroke-width="0.56" stroke-linejoin="round"/>
<path d="M162.43 353.87L163.58 354.21" fill="none" stroke="#1a1a1a" stroke-width="0.56" stroke-linejoin="round"/>
<path d="M162.49 355.2L163.65 355.89" fill="none" stroke="#1a1a1a" stroke-width="0.56" stroke-linejoin="round"/>
<path d="M162.35 356.42L163.48 357.42" fill="none" stroke="#1a1a1a" stroke-width="0.56" stroke-linejoin="round"/>
<path d="M162.02 357.47L163.07 358.74" fill="none" stroke="#1a1a1a" stroke-width="0.56" stroke-linejoin="round"/>
<path d="M161.52 358.3L162.43 359.78" fill="none" stroke="#1a1a1a" stroke-width="0.56" stroke-linejoin="round"/>
<ellipse cx="156.47" cy="353.11" rx="3.04" ry="3.8" transform="rotate(-21 156.47 353.11)" fill="#888" stroke="#1a1a1a" stroke-width="0.9"/>
<ellipse cx="155.4" cy="346.6" rx="0.9" ry="0.9" transform="rotate(-90 155.4 346.6)" fill="#333" stroke="#1a1a1a" stroke-width="0.67"/>
<path d="M207 356.25L201.6 353.28" stroke="#1a1a1a" stroke-width="0.75" fill="none"/>
<path d="M197 350.75L204.73 352.26L202.13 353.57L202.42 356.47Z" fill="#111"/>
<path d="M214.2 350.2L207 356.25" fill="none" stroke="#1a1a1a" stroke-width="0.84" stroke-linejoin="round"/>
<path d="M213.75 323.75L231.25 312.5L229.8 311.6" fill="none" stroke="#1a1a1a" stroke-width="0.84" stroke-linejoin="round"/>
<path d="M182.7 372.5L182.7 437.5" fill="none" stroke="#1a1a1a" stroke-width="0.84" stroke-linejoin="round"/>
<path d="M182.7 437.5L392 315" fill="none" stroke="#1a1a1a" stroke-width="0.84" stroke-dasharray="43 5 7 5" stroke-linejoin="round"/>
<path d="M375 324.97L391.1 315.5L391.1 328.5" fill="none" stroke="#1a1a1a" stroke-width="0.84" stroke-linejoin="round"/>
<path d="M146.25 360L156.25 355" fill="none" stroke="#1a1a1a" stroke-width="0.84" stroke-linejoin="round"/>
<ellipse cx="140.6" cy="363.4" rx="3.66" ry="5.9" transform="rotate(-30 140.6 363.4)" fill="none" stroke="#1a1a1a" stroke-width="2.24"/>
<path d="M132.34 346.78L134.45 351" stroke="#1a1a1a" stroke-width="0.75" fill="none"/>
<path d="M136.8 355.7L131.3 350.07L134.18 350.47L135.59 347.92Z" fill="#111"/>
<path d="M131.41 374.58L135.46 372.61A2.65 4.6 -26 0 0 131.42 364.34L127.38 366.31Z" fill="#fff" stroke="#1a1a1a" stroke-width="1.12" stroke-linejoin="round"/>
<ellipse cx="129.4" cy="370.45" rx="2.65" ry="4.6" transform="rotate(-26 129.4 370.45)" fill="#fff" stroke="#1a1a1a" stroke-width="1.12"/>
<path d="M127.99 376.69L131.59 374.94A2.88 5 -26 0 0 127.2 365.95L123.61 367.71Z" fill="#fff" stroke="#1a1a1a" stroke-width="1.12" stroke-linejoin="round"/>
<ellipse cx="125.8" cy="372.2" rx="2.88" ry="5" transform="rotate(-26 125.8 372.2)" fill="#fff" stroke="#1a1a1a" stroke-width="1.12"/>
<ellipse cx="125.8" cy="372.2" rx="0.92" ry="1.6" transform="rotate(-26 125.8 372.2)" fill="#fff" stroke="#1a1a1a" stroke-width="0.78"/>
<ellipse cx="125.8" cy="372.2" rx="1.73" ry="3" transform="rotate(-26 125.8 372.2)" fill="none" stroke="#1a1a1a" stroke-width="0.67"/>
<path d="M151.73 380.54L140.67 377.56" stroke="#1a1a1a" stroke-width="0.75" fill="none"/>
<path d="M135.6 376.2L143.47 375.83L141.25 377.72L142.22 380.46Z" fill="#111"/>
<path d="M118.53 385.38L120.86 384.24A3.81 6.6 -26 0 0 115.08 372.37L112.74 373.51Z" fill="#fff" stroke="#1a1a1a" stroke-width="1.12" stroke-linejoin="round"/>
<ellipse cx="115.63" cy="379.44" rx="3.81" ry="6.6" transform="rotate(-26 115.63 379.44)" fill="#fff" stroke="#1a1a1a" stroke-width="1.12"/>
<path d="M108.45 390.96L118.79 385.91A4.15 7.2 -26 0 0 112.48 372.97L102.14 378.01Z" fill="#c4c4c4" stroke="#1a1a1a" stroke-width="1.12" stroke-linejoin="round"/>
<path d="M108.45 390.96A4.15 7.2 -26 0 0 102.14 378.01" fill="none" stroke="#1a1a1a" stroke-width="0.56"/>
<path d="M109.93 390.24A4.15 7.2 -26 0 0 103.62 377.29" fill="none" stroke="#1a1a1a" stroke-width="0.56"/>
<path d="M111.41 389.52A4.15 7.2 -26 0 0 105.09 376.57" fill="none" stroke="#1a1a1a" stroke-width="0.56"/>
<path d="M112.88 388.8A4.15 7.2 -26 0 0 106.57 375.85" fill="none" stroke="#1a1a1a" stroke-width="0.56"/>
<path d="M114.36 388.08A4.15 7.2 -26 0 0 108.05 375.13" fill="none" stroke="#1a1a1a" stroke-width="0.56"/>
<path d="M115.84 387.36A4.15 7.2 -26 0 0 109.52 374.41" fill="none" stroke="#1a1a1a" stroke-width="0.56"/>
<path d="M117.31 386.64A4.15 7.2 -26 0 0 111 373.69" fill="none" stroke="#1a1a1a" stroke-width="0.56"/>
<ellipse cx="105.3" cy="384.48" rx="4.15" ry="7.2" transform="rotate(-26 105.3 384.48)" fill="#c4c4c4" stroke="#1a1a1a" stroke-width="1.12"/>
<path d="M106.46 393.71L109.15 392.39A5.08 8.8 -26 0 0 101.44 376.58L98.74 377.89Z" fill="#fff" stroke="#1a1a1a" stroke-width="1.12" stroke-linejoin="round"/>
<path d="M104.74 380.35L107.44 379.03" stroke="#1a1a1a" stroke-width="0.6" fill="none"/>
<path d="M108.22 387.47L110.91 386.15" stroke="#1a1a1a" stroke-width="0.6" fill="none"/>
<ellipse cx="102.6" cy="385.8" rx="5.08" ry="8.8" transform="rotate(-26 102.6 385.8)" fill="#fff" stroke="#1a1a1a" stroke-width="1.12"/>
<ellipse cx="102.6" cy="385.8" rx="3.69" ry="6.4" transform="rotate(-26 102.6 385.8)" fill="none" stroke="#1a1a1a" stroke-width="0.78"/>
<ellipse cx="102.6" cy="385.8" rx="2.31" ry="4" transform="rotate(-26 102.6 385.8)" fill="#777" stroke="#1a1a1a" stroke-width="0.78"/>
<ellipse cx="102.6" cy="385.8" rx="1.04" ry="1.8" transform="rotate(-26 102.6 385.8)" fill="#fff" stroke="#1a1a1a" stroke-width="0.67"/>
<path d="M110.04 361.93L109.34 366.8" stroke="#1a1a1a" stroke-width="0.75" fill="none"/>
<path d="M108.6 372L107.28 364.24L109.43 366.21L112.04 364.91Z" fill="#111"/>
<ellipse cx="70" cy="405" rx="10.71" ry="15.3" transform="rotate(-32 70 405)" fill="none" stroke="#1a1a1a" stroke-width="1.06"/>
<ellipse cx="70" cy="405" rx="9.31" ry="13.6" transform="rotate(-32 70 405)" fill="none" stroke="#1a1a1a" stroke-width="0.95"/>
<ellipse cx="80.75" cy="398.75" rx="14.08" ry="22.9" transform="rotate(-32 80.75 398.75)" fill="none" stroke="#1a1a1a" stroke-width="1.06"/>
<ellipse cx="80.75" cy="398.75" rx="12.84" ry="21.2" transform="rotate(-32 80.75 398.75)" fill="none" stroke="#1a1a1a" stroke-width="0.95"/>
<path d="M78.62 440.91L77.79 426.04" stroke="#1a1a1a" stroke-width="0.75" fill="none"/>
<path d="M77.5 420.8L80.31 428.15L77.83 426.64L75.52 428.42Z" fill="#111"/>
<path d="M96.69 440.92L95.39 423.44" stroke="#1a1a1a" stroke-width="0.75" fill="none"/>
<path d="M95 418.2L97.95 425.5L95.44 424.03L93.16 425.86Z" fill="#111"/>
<path d="M53.68 419.25L55.87 418.03A2.6 4.5 -29 0 0 51.5 410.16L49.32 411.37Z" fill="#fff" stroke="#1a1a1a" stroke-width="1.12" stroke-linejoin="round"/>
<ellipse cx="51.5" cy="415.31" rx="2.6" ry="4.5" transform="rotate(-29 51.5 415.31)" fill="#fff" stroke="#1a1a1a" stroke-width="1.12"/>
<path d="M46.22 420.64L52.52 417.15A1.21 2.1 -29 0 0 50.48 413.47L44.18 416.96Z" fill="#fff" stroke="#1a1a1a" stroke-width="1.12" stroke-linejoin="round"/>
<ellipse cx="45.2" cy="418.8" rx="1.21" ry="2.1" transform="rotate(-29 45.2 418.8)" fill="#fff" stroke="#1a1a1a" stroke-width="1.12"/>
<path d="M47.44 401.75L46.67 407.79" stroke="#1a1a1a" stroke-width="0.75" fill="none"/>
<path d="M46 413L44.57 405.26L46.74 407.2L49.33 405.86Z" fill="#111"/>
<path d="M40.39 428.76L41.97 427.88A3.46 6 -29 0 0 36.15 417.39L34.57 418.26Z" fill="#fff" stroke="#1a1a1a" stroke-width="1.12" stroke-linejoin="round"/>
<ellipse cx="37.48" cy="423.51" rx="3.46" ry="6" transform="rotate(-29 37.48 423.51)" fill="#fff" stroke="#1a1a1a" stroke-width="1.12"/>
<path d="M39.52 431.3L41.27 430.33A4.5 7.8 -29 0 0 33.7 416.69L31.95 417.66Z" fill="#fff" stroke="#1a1a1a" stroke-width="1.12" stroke-linejoin="round"/>
<ellipse cx="35.73" cy="424.48" rx="4.5" ry="7.8" transform="rotate(-29 35.73 424.48)" fill="#fff" stroke="#1a1a1a" stroke-width="1.12"/>
<path d="M32.81 432.62L38.5 429.46A3.29 5.7 -29 0 0 32.97 419.49L27.29 422.65Z" fill="#fff" stroke="#1a1a1a" stroke-width="1.12" stroke-linejoin="round"/>
<ellipse cx="30.05" cy="427.63" rx="3.29" ry="5.7" transform="rotate(-29 30.05 427.63)" fill="#fff" stroke="#1a1a1a" stroke-width="1.12"/>
<path d="M30.34 432.27L32.09 431.3A2.42 4.2 -29 0 0 28.01 423.96L26.26 424.93Z" fill="#fff" stroke="#1a1a1a" stroke-width="1.12" stroke-linejoin="round"/>
<ellipse cx="28.3" cy="428.6" rx="2.42" ry="4.2" transform="rotate(-29 28.3 428.6)" fill="#fff" stroke="#1a1a1a" stroke-width="1.12"/>
<ellipse cx="28.3" cy="428.6" rx="2.64" ry="3.3" transform="rotate(-29 28.3 428.6)" fill="#fff" stroke="#1a1a1a" stroke-width="1.57"/>
<path d="M117 458.75L109.5 449.5L155.5 415L167 423.75" fill="none" stroke="#1a1a1a" stroke-width="0.84" stroke-linejoin="round"/>
<path d="M126.3 424.8L132 431.25" fill="none" stroke="#1a1a1a" stroke-width="0.84" stroke-linejoin="round"/>
<ellipse cx="168.75" cy="442.5" rx="12.32" ry="15.8" transform="rotate(-22 168.75 442.5)" fill="none" stroke="#1a1a1a" stroke-width="1.06"/>
<ellipse cx="168.75" cy="442.5" rx="10.94" ry="14.3" transform="rotate(-22 168.75 442.5)" fill="none" stroke="#1a1a1a" stroke-width="0.95"/>
<ellipse cx="163.75" cy="446.25" rx="6.7" ry="9.3" transform="rotate(-22 163.75 446.25)" fill="none" stroke="#1a1a1a" stroke-width="1.06"/>
<ellipse cx="163.75" cy="446.25" rx="5.43" ry="7.8" transform="rotate(-22 163.75 446.25)" fill="none" stroke="#1a1a1a" stroke-width="0.95"/>
<path d="M144.7 481.64L155.03 477.88A14.4 22.5 -20 0 0 139.64 435.59L129.3 439.36Z" fill="#fff" stroke="#1a1a1a" stroke-width="1.12" stroke-linejoin="round"/>
<ellipse cx="137" cy="460.5" rx="14.4" ry="22.5" transform="rotate(-20 137 460.5)" fill="#fff" stroke="#1a1a1a" stroke-width="1.12"/>
<ellipse cx="145.46" cy="457.42" rx="14.4" ry="22.5" transform="rotate(-20 145.46 457.42)" fill="none" stroke="#1a1a1a" stroke-width="0.67"/>
<ellipse cx="137" cy="460.5" rx="14.4" ry="22.5" transform="rotate(-20 137 460.5)" fill="#fff" stroke="#1a1a1a" stroke-width="1.01"/>
<ellipse cx="137.3" cy="460.6" rx="4.2" ry="5.6" transform="rotate(-20 137.3 460.6)" fill="#fff" stroke="#1a1a1a" stroke-width="1.01"/>
<ellipse cx="137.6" cy="460.6" rx="2.7" ry="3.6" transform="rotate(-20 137.6 460.6)" fill="#aaa" stroke="#1a1a1a" stroke-width="0.78"/>
<path d="M180.47 477.08L169.96 461.64" stroke="#1a1a1a" stroke-width="0.75" fill="none"/>
<path d="M167 457.3L173.21 462.15L170.29 462.14L169.24 464.85Z" fill="#111"/>
<path d="M193.74 465.78L185.59 460.03" stroke="#1a1a1a" stroke-width="0.75" fill="none"/>
<path d="M181.3 457L188.81 459.36L186.08 460.37L186.04 463.28Z" fill="#111"/>
<path d="M 330.84 366.47 C 330.18 360.54 333.48 357.25 336.77 357.25 C 340.07 357.25 342.04 360.54 341.38 365.81 L 341.38 389.53 L 344.68 390.84 L 345.34 375.69 C 344.68 369.76 347.31 365.81 350.61 365.81 C 354.56 365.81 356.53 369.76 355.55 375.69 L 355.22 409.29 C 355.88 417.52 359.83 424.11 360.49 430.7 C 361.15 448.81 358.51 475.16 354.56 491.63 C 352.58 501.52 349.29 511.4 344.35 513.04 C 339.41 514.03 334.8 511.4 333.81 507.44 C 332.82 503.16 334.8 494.93 335.45 488.34 C 336.77 468.58 338.09 445.52 337.1 430.7 C 336.11 420.82 330.84 415.88 330.18 405.99 Z" fill="#fff" stroke="#1a1a1a" stroke-width="1.29" stroke-linejoin="round" stroke-linecap="round" />
<path d="M 341.38 389.53 L 341.38 405.34 M 345.34 392.82 L 345.34 406.65 M 344.68 420.82 C 346.65 438.93 347.97 461.99 345.99 481.75 C 344.68 494.93 342.04 504.81 339.41 511.4" fill="none" stroke="#1a1a1a" stroke-width="0.78" stroke-linejoin="round" stroke-linecap="round" />
<path d="M 332.49 367.79 C 332.16 363.18 334.14 359.88 336.77 359.55 M 332.49 367.79 L 332.16 404.35 M 346.98 377.01 C 346.65 371.74 348.63 368.45 351.26 368.12 M 346.98 377.01 L 346.98 406.65 M 353.57 377.01 L 353.24 408.63" fill="none" stroke="#1a1a1a" stroke-width="0.67" stroke-linejoin="round" stroke-linecap="round" />
<ellipse cx="335.45" cy="364.16" rx="1.81" ry="2.47" transform="rotate(15 335.45 364.16)" fill="#fff" stroke="#1a1a1a" stroke-width="0.9"/>
<ellipse cx="350.61" cy="372.73" rx="1.81" ry="2.47" transform="rotate(15 350.61 372.73)" fill="#fff" stroke="#1a1a1a" stroke-width="0.9"/>
<path d="M 330.18 385.57 L 322.94 382.94 L 322.94 392.16 L 330.18 396.11 M 325.57 384.26 L 325.57 390.18 L 330.18 392.16" fill="none" stroke="#1a1a1a" stroke-width="0.9" stroke-linejoin="round" stroke-linecap="round" />
<path d="M 341.38 393.48 L 338.09 392.16 L 338.09 399.41 L 344.68 402.7 M 340.07 393.15 L 340.07 398.09 L 344.68 400.07" fill="none" stroke="#1a1a1a" stroke-width="0.9" stroke-linejoin="round" stroke-linecap="round" />
<path d="M320.5 429L330.05 429" stroke="#1a1a1a" stroke-width="0.75" fill="none"/>
<path d="M335.3 429L327.8 431.4L329.45 429L327.8 426.6Z" fill="#111"/>
<path d="M387.1 337 L387.1 349.3 C388 351 393 351 393.9 349.3 L393.9 337 Z" fill="#fff" stroke="#1a1a1a" stroke-width="1.01" stroke-linejoin="round" stroke-linecap="round" />
<path d="M388.6 344.5 L391.1 344.5 L391.1 350.3 M388.6 344.5 L388.6 350" fill="none" stroke="#1a1a1a" stroke-width="0.67" stroke-linejoin="round" stroke-linecap="round" />
<ellipse cx="390.5" cy="336.8" rx="5.2" ry="2.1" fill="#fff" stroke="#1a1a1a" stroke-width="0.95"/>
<ellipse cx="390.5" cy="335.8" rx="5.2" ry="2.1" fill="#fff" stroke="#1a1a1a" stroke-width="0.95"/>
<ellipse cx="390.5" cy="334" rx="3.5" ry="1.7" fill="#555" stroke="#1a1a1a" stroke-width="0.8"/>
<path d="M388 333 L388 331 C388 328.6 393 328.6 393 331 L393 333 C392 334.2 389 334.2 388 333 Z" fill="#fff" stroke="#1a1a1a" stroke-width="0.95" stroke-linejoin="round" stroke-linecap="round" />
<path d="M408.5 341.25L401.75 341.25" stroke="#1a1a1a" stroke-width="0.75" fill="none"/>
<path d="M396.5 341.25L404 338.85L402.35 341.25L404 343.65Z" fill="#111"/>
<path d="M385.5 358.75 L385.5 427.5 C385.5 447.5 397.5 456.25 412.5 455.5 L421.25 452.5 L421.25 440 L412.5 445 C403.75 445.5 397 439 396.25 427.5 L396.25 358.75 Z" fill="#fff" stroke="#1a1a1a" stroke-width="1.01" stroke-linejoin="round" stroke-linecap="round" />
<ellipse cx="390.75" cy="358.75" rx="5.38" ry="2.75" transform="rotate(0 390.75 358.75)" fill="#fff" stroke="#1a1a1a" stroke-width="0.9"/>
<ellipse cx="390.75" cy="359" rx="3.25" ry="1.62" transform="rotate(0 390.75 359)" fill="#fff" stroke="#1a1a1a" stroke-width="0.8"/>
<path d="M408 379.5L402.45 379.5" stroke="#1a1a1a" stroke-width="0.75" fill="none"/>
<path d="M397.2 379.5L404.7 377.1L403.05 379.5L404.7 381.9Z" fill="#111"/>
<path d="M455.6 360.2L455.6 361.1A2.65 4.6 90 0 0 464.8 361.1L464.8 360.2Z" fill="#fff" stroke="#1a1a1a" stroke-width="1.12" stroke-linejoin="round"/>
<ellipse cx="460.2" cy="360.2" rx="2.65" ry="4.6" transform="rotate(90 460.2 360.2)" fill="#fff" stroke="#1a1a1a" stroke-width="1.12"/>
<path d="M454.8 355.6L454.8 360.2A3.12 5.4 90 0 0 465.6 360.2L465.6 355.6Z" fill="#ccc" stroke="#1a1a1a" stroke-width="1.12" stroke-linejoin="round"/>
<path d="M454.8 355.6A3.12 5.4 90 0 0 465.6 355.6" fill="none" stroke="#1a1a1a" stroke-width="0.56"/>
<path d="M454.8 357.13A3.12 5.4 90 0 0 465.6 357.13" fill="none" stroke="#1a1a1a" stroke-width="0.56"/>
<path d="M454.8 358.67A3.12 5.4 90 0 0 465.6 358.67" fill="none" stroke="#1a1a1a" stroke-width="0.56"/>
<ellipse cx="460.2" cy="355.6" rx="3.12" ry="5.4" transform="rotate(90 460.2 355.6)" fill="#ccc" stroke="#1a1a1a" stroke-width="1.12"/>
<path d="M454.8 351.4L454.8 355.6A3.12 5.4 90 0 0 465.6 355.6L465.6 351.4Z" fill="#fff" stroke="#1a1a1a" stroke-width="1.12" stroke-linejoin="round"/>
<ellipse cx="460.2" cy="351.4" rx="3.12" ry="5.4" transform="rotate(90 460.2 351.4)" fill="#fff" stroke="#1a1a1a" stroke-width="1.12"/>
<path d="M439 356.2L448.05 356.2" stroke="#1a1a1a" stroke-width="0.75" fill="none"/>
<path d="M453.3 356.2L445.8 358.6L447.45 356.2L445.8 353.8Z" fill="#111"/>
<path d="M 449.5 430 L 458.75 420 L 462.5 416.25 L 483 399.5 L 491.25 403 L 492 408 L 475 422 L 461.25 426.5 L 449.5 437.5 Z" fill="#fff" stroke="#1a1a1a" stroke-width="1.01" stroke-linejoin="round" stroke-linecap="round" />
<path d="M 461.25 420 L 469 421.5 L 462.5 424.25 M 483 399.5 L 484 404 L 492 408 M 484 404 L 463 420.5" fill="none" stroke="#1a1a1a" stroke-width="0.67" stroke-linejoin="round" stroke-linecap="round" />
<ellipse cx="479.5" cy="408" rx="4" ry="2.25" transform="rotate(-20 479.5 408)" fill="#fff" stroke="#1a1a1a" stroke-width="0.8"/>
<ellipse cx="479.75" cy="408.25" rx="2.25" ry="1.25" transform="rotate(-20 479.75 408.25)" fill="#fff" stroke="#1a1a1a" stroke-width="0.6"/>
<path d="M 420.5 437 L 441.5 427.5 L 449.5 431.5 L 449.5 449.5 L 428.75 460.5 L 422.5 458 L 420.5 453 Z" fill="#fff" stroke="#1a1a1a" stroke-width="1.12" stroke-linejoin="round" stroke-linecap="round" />
<path d="M 420.5 437 L 428.75 441 L 449.5 431.5 M 428.75 441 L 428.75 460.5 M 428.75 451.5 L 449.5 440.75 M 422.5 438.25 C 424.5 442 424.5 450.5 422.5 458" fill="none" stroke="#1a1a1a" stroke-width="0.78" stroke-linejoin="round" stroke-linecap="round" />
<path d="M482 418L482 426" fill="none" stroke="#1a1a1a" stroke-width="0.84" stroke-linejoin="round"/>
<path d="M479.2 425.5L479.2 437A1.62 2.8 90 0 0 484.8 437L484.8 425.5Z" fill="#999" stroke="#1a1a1a" stroke-width="1.12" stroke-linejoin="round"/>
<path d="M479.2 425.5A1.62 2.8 90 0 0 484.8 425.5" fill="none" stroke="#1a1a1a" stroke-width="0.56"/>
<path d="M479.2 427.14A1.62 2.8 90 0 0 484.8 427.14" fill="none" stroke="#1a1a1a" stroke-width="0.56"/>
<path d="M479.2 428.79A1.62 2.8 90 0 0 484.8 428.79" fill="none" stroke="#1a1a1a" stroke-width="0.56"/>
<path d="M479.2 430.43A1.62 2.8 90 0 0 484.8 430.43" fill="none" stroke="#1a1a1a" stroke-width="0.56"/>
<path d="M479.2 432.07A1.62 2.8 90 0 0 484.8 432.07" fill="none" stroke="#1a1a1a" stroke-width="0.56"/>
<path d="M479.2 433.71A1.62 2.8 90 0 0 484.8 433.71" fill="none" stroke="#1a1a1a" stroke-width="0.56"/>
<path d="M479.2 435.36A1.62 2.8 90 0 0 484.8 435.36" fill="none" stroke="#1a1a1a" stroke-width="0.56"/>
<ellipse cx="482" cy="425.5" rx="1.62" ry="2.8" transform="rotate(90 482 425.5)" fill="#999" stroke="#1a1a1a" stroke-width="1.12"/>
<path d="M476.9 437.5L476.9 439.7A4.21 7.3 90 0 0 491.5 439.7L491.5 437.5Z" fill="#fff" stroke="#1a1a1a" stroke-width="1.12" stroke-linejoin="round"/>
<ellipse cx="484.2" cy="437.5" rx="4.21" ry="7.3" transform="rotate(90 484.2 437.5)" fill="#fff" stroke="#1a1a1a" stroke-width="1.12"/>
<path d="M508 436.25L499.95 436.25" stroke="#1a1a1a" stroke-width="0.75" fill="none"/>
<path d="M494.7 436.25L502.2 433.85L500.55 436.25L502.2 438.65Z" fill="#111"/>
<circle cx="20.7" cy="284" r="6.9" fill="#fff" stroke="#333" stroke-width="0.9"/>
<text transform="translate(20.7 287.35) scale(0.95 1)">1</text>
<circle cx="121" cy="260" r="6.9" fill="#fff" stroke="#333" stroke-width="0.9"/>
<text transform="translate(121 263.35) scale(0.95 1)">2</text>
<circle cx="45.7" cy="294.3" r="6.9" fill="#fff" stroke="#333" stroke-width="0.9"/>
<text transform="translate(45.7 297.65) scale(0.95 1)">3</text>
<circle cx="87.3" cy="341.7" r="6.9" fill="#fff" stroke="#333" stroke-width="0.9"/>
<text transform="translate(87.3 345.05) scale(0.95 1)">4</text>
<circle cx="60" cy="442" r="6.9" fill="#fff" stroke="#333" stroke-width="0.9"/>
<text transform="translate(60 445.35) scale(0.95 1)">5</text>
<circle cx="48.3" cy="395" r="6.9" fill="#fff" stroke="#333" stroke-width="0.9"/>
<text transform="translate(48.3 398.35) scale(0.95 1)">6</text>
<circle cx="79" cy="447.7" r="6.9" fill="#fff" stroke="#333" stroke-width="0.9"/>
<text transform="translate(79 451.05) scale(0.95 1)">7</text>
<circle cx="97.2" cy="447.7" r="6.9" fill="#fff" stroke="#333" stroke-width="0.9"/>
<text transform="translate(97.2 451.05) scale(0.95 1)">8</text>
<circle cx="79" cy="464.5" r="6.9" fill="#fff" stroke="#333" stroke-width="0.9"/>
<text transform="translate(79 467.85) scale(0.95 1)">7a</text>
<circle cx="97.2" cy="464.5" r="6.9" fill="#fff" stroke="#333" stroke-width="0.9"/>
<text transform="translate(97.2 467.85) scale(0.95 1)">8a</text>
<circle cx="158.3" cy="382.3" r="6.9" fill="#fff" stroke="#333" stroke-width="0.9"/>
<text transform="translate(158.3 385.65) scale(0.95 1)">10</text>
<circle cx="280.7" cy="256.2" r="6.9" fill="#fff" stroke="#333" stroke-width="0.9"/>
<text transform="translate(280.7 259.55) scale(0.95 1)">11</text>
<circle cx="312.7" cy="291" r="6.9" fill="#fff" stroke="#333" stroke-width="0.9"/>
<text transform="translate(312.7 294.35) scale(0.95 1)">12</text>
<circle cx="245.7" cy="321" r="6.9" fill="#fff" stroke="#333" stroke-width="0.9"/>
<text transform="translate(245.7 324.35) scale(0.95 1)">13</text>
<circle cx="266" cy="250.5" r="6.9" fill="#fff" stroke="#333" stroke-width="0.9"/>
<text transform="translate(266 253.85) scale(0.95 1)">14</text>
<circle cx="327.3" cy="282" r="6.9" fill="#fff" stroke="#333" stroke-width="0.9"/>
<text transform="translate(327.3 285.35) scale(0.95 1)">14</text>
<circle cx="344.2" cy="271.3" r="6.9" fill="#fff" stroke="#333" stroke-width="0.9"/>
<text transform="translate(344.2 274.65) scale(0.95 1)">15</text>
<circle cx="298" cy="231" r="6.9" fill="#fff" stroke="#333" stroke-width="0.9"/>
<text transform="translate(298 234.35) scale(0.95 1)">16</text>
<circle cx="357.2" cy="262.1" r="6.9" fill="#fff" stroke="#333" stroke-width="0.9"/>
<text transform="translate(357.2 265.45) scale(0.95 1)">16</text>
<circle cx="77.7" cy="210.3" r="6.9" fill="#fff" stroke="#333" stroke-width="0.9"/>
<text transform="translate(77.7 213.65) scale(0.95 1)">17</text>
<circle cx="313" cy="220" r="6.9" fill="#fff" stroke="#333" stroke-width="0.9"/>
<text transform="translate(313 223.35) scale(0.95 1)">17</text>
<circle cx="371.2" cy="252.4" r="6.9" fill="#fff" stroke="#333" stroke-width="0.9"/>
<text transform="translate(371.2 255.75) scale(0.95 1)">17</text>
<circle cx="194.8" cy="289.3" r="6.9" fill="#fff" stroke="#333" stroke-width="0.9"/>
<text transform="translate(194.8 292.65) scale(0.95 1)">18</text>
<circle cx="217.3" cy="221.7" r="6.9" fill="#fff" stroke="#333" stroke-width="0.9"/>
<text transform="translate(217.3 225.05) scale(0.95 1)">19</text>
<circle cx="246.3" cy="260" r="6.9" fill="#fff" stroke="#333" stroke-width="0.9"/>
<text transform="translate(246.3 263.35) scale(0.95 1)">20</text>
<circle cx="233.7" cy="273.2" r="6.9" fill="#fff" stroke="#333" stroke-width="0.9"/>
<text transform="translate(233.7 276.55) scale(0.95 1)">21</text>
<circle cx="177.5" cy="239.5" r="6.9" fill="#fff" stroke="#333" stroke-width="0.9"/>
<text transform="translate(177.5 242.85) scale(0.95 1)">26</text>
<circle cx="53.3" cy="219.3" r="6.9" fill="#fff" stroke="#333" stroke-width="0.9"/>
<text transform="translate(53.3 222.65) scale(0.95 1)">28</text>
<circle cx="94.3" cy="193" r="6.9" fill="#fff" stroke="#333" stroke-width="0.9"/>
<text transform="translate(94.3 196.35) scale(0.95 1)">29</text>
<circle cx="241.8" cy="154" r="6.9" fill="#fff" stroke="#333" stroke-width="0.9"/>
<text transform="translate(241.8 157.35) scale(0.95 1)">31</text>
<circle cx="136.3" cy="192.3" r="6.9" fill="#fff" stroke="#333" stroke-width="0.9"/>
<text transform="translate(136.3 195.65) scale(0.95 1)">32</text>
<circle cx="342.3" cy="332" r="6.9" fill="#fff" stroke="#333" stroke-width="0.9"/>
<text transform="translate(342.3 335.35) scale(0.95 1)">33</text>
<circle cx="245.5" cy="353" r="6.9" fill="#fff" stroke="#333" stroke-width="0.9"/>
<text transform="translate(245.5 356.35) scale(0.95 1)">34</text>
<circle cx="277.3" cy="300.5" r="6.9" fill="#fff" stroke="#333" stroke-width="0.9"/>
<text transform="translate(277.3 303.85) scale(0.95 1)">35</text>
<circle cx="294" cy="296.2" r="6.9" fill="#fff" stroke="#333" stroke-width="0.9"/>
<text transform="translate(294 299.55) scale(0.95 1)">36</text>
<circle cx="352" cy="299.5" r="6.9" fill="#fff" stroke="#333" stroke-width="0.9"/>
<text transform="translate(352 302.85) scale(0.95 1)">37</text>
<circle cx="394" cy="282.7" r="6.9" fill="#fff" stroke="#333" stroke-width="0.9"/>
<text transform="translate(394 286.05) scale(0.95 1)">38</text>
<circle cx="411" cy="270" r="6.9" fill="#fff" stroke="#333" stroke-width="0.9"/>
<text transform="translate(411 273.35) scale(0.95 1)">39</text>
<circle cx="343" cy="206.7" r="6.9" fill="#fff" stroke="#333" stroke-width="0.9"/>
<text transform="translate(343 210.05) scale(0.95 1)">40</text>
<circle cx="494.2" cy="300.5" r="6.9" fill="#fff" stroke="#333" stroke-width="0.9"/>
<text transform="translate(494.2 303.85) scale(0.95 1)">41</text>
<circle cx="505.3" cy="90.3" r="6.9" fill="#fff" stroke="#333" stroke-width="0.9"/>
<text transform="translate(505.3 93.65) scale(0.95 1)">42</text>
<circle cx="493" cy="164.4" r="6.9" fill="#fff" stroke="#333" stroke-width="0.9"/>
<text transform="translate(493 167.75) scale(0.95 1)">43</text>
<circle cx="541.4" cy="139.8" r="6.9" fill="#fff" stroke="#333" stroke-width="0.9"/>
<text transform="translate(541.4 143.15) scale(0.95 1)">44</text>
<circle cx="555.8" cy="129.8" r="6.9" fill="#fff" stroke="#333" stroke-width="0.9"/>
<text transform="translate(555.8 133.15) scale(0.95 1)">45</text>
<circle cx="569.1" cy="121" r="6.9" fill="#fff" stroke="#333" stroke-width="0.9"/>
<text transform="translate(569.1 124.35) scale(0.95 1)">46</text>
<circle cx="597" cy="106" r="6.9" fill="#fff" stroke="#333" stroke-width="0.9"/>
<text transform="translate(597 109.35) scale(0.95 1)">47</text>
<circle cx="577.7" cy="208" r="6.9" fill="#fff" stroke="#333" stroke-width="0.9"/>
<text transform="translate(577.7 211.35) scale(0.95 1)">48</text>
<circle cx="98.9" cy="57.5" r="6.9" fill="#fff" stroke="#333" stroke-width="0.9"/>
<text transform="translate(98.9 60.85) scale(0.95 1)">49</text>
<circle cx="118.6" cy="63.8" r="6.9" fill="#fff" stroke="#333" stroke-width="0.9"/>
<text transform="translate(118.6 67.15) scale(0.95 1)">50</text>
<circle cx="170" cy="90" r="6.9" fill="#fff" stroke="#333" stroke-width="0.9"/>
<text transform="translate(170 93.35) scale(0.95 1)">51</text>
<circle cx="168.7" cy="149.2" r="6.9" fill="#fff" stroke="#333" stroke-width="0.9"/>
<text transform="translate(168.7 152.55) scale(0.95 1)">52</text>
<circle cx="155.3" cy="163.3" r="6.9" fill="#fff" stroke="#333" stroke-width="0.9"/>
<text transform="translate(155.3 166.65) scale(0.95 1)">53</text>
<circle cx="294.7" cy="177" r="6.9" fill="#fff" stroke="#333" stroke-width="0.9"/>
<text transform="translate(294.7 180.35) scale(0.95 1)">54</text>
<circle cx="365" cy="171.5" r="6.9" fill="#fff" stroke="#333" stroke-width="0.9"/>
<text transform="translate(365 174.85) scale(0.95 1)">55</text>
<circle cx="333.7" cy="98.7" r="6.9" fill="#fff" stroke="#333" stroke-width="0.9"/>
<text transform="translate(333.7 102.05) scale(0.95 1)">56</text>
<circle cx="316.3" cy="119.3" r="6.9" fill="#fff" stroke="#333" stroke-width="0.9"/>
<text transform="translate(316.3 122.65) scale(0.95 1)">57</text>
<circle cx="301" cy="112.7" r="6.9" fill="#fff" stroke="#333" stroke-width="0.9"/>
<text transform="translate(301 116.05) scale(0.95 1)">58</text>
<circle cx="283.3" cy="115" r="6.9" fill="#fff" stroke="#333" stroke-width="0.9"/>
<text transform="translate(283.3 118.35) scale(0.95 1)">59</text>
<circle cx="262.3" cy="90.7" r="6.9" fill="#fff" stroke="#333" stroke-width="0.9"/>
<text transform="translate(262.3 94.05) scale(0.95 1)">60</text>
<circle cx="495" cy="254.3" r="6.9" fill="#fff" stroke="#333" stroke-width="0.9"/>
<text transform="translate(495 257.65) scale(0.95 1)">61</text>
<circle cx="313.5" cy="429" r="6.9" fill="#fff" stroke="#333" stroke-width="0.9"/>
<text transform="translate(313.5 432.35) scale(0.95 1)">62</text>
<circle cx="415.3" cy="341.2" r="6.9" fill="#fff" stroke="#333" stroke-width="0.9"/>
<text transform="translate(415.3 344.55) scale(0.95 1)">63</text>
<circle cx="415.3" cy="379.8" r="6.9" fill="#fff" stroke="#333" stroke-width="0.9"/>
<text transform="translate(415.3 383.15) scale(0.95 1)">64</text>
<circle cx="515.6" cy="436" r="6.9" fill="#fff" stroke="#333" stroke-width="0.9"/>
<text transform="translate(515.6 439.35) scale(0.95 1)">65</text>
<circle cx="431.4" cy="356.1" r="6.9" fill="#fff" stroke="#333" stroke-width="0.9"/>
<text transform="translate(431.4 359.45) scale(0.95 1)">66</text>
<circle cx="121.3" cy="419.8" r="6.9" fill="#fff" stroke="#333" stroke-width="0.9"/>
<text transform="translate(121.3 423.15) scale(0.95 1)">67</text>
<circle cx="111" cy="355.2" r="6.9" fill="#fff" stroke="#333" stroke-width="0.9"/>
<text transform="translate(111 358.55) scale(0.95 1)">72</text>
<circle cx="129.3" cy="340.7" r="6.9" fill="#fff" stroke="#333" stroke-width="0.9"/>
<text transform="translate(129.3 344.05) scale(0.95 1)">73</text>
<circle cx="219" cy="345" r="6.9" fill="#fff" stroke="#333" stroke-width="0.9"/>
<text transform="translate(219 348.35) scale(0.95 1)">74</text>
<circle cx="184.3" cy="482.7" r="6.9" fill="#fff" stroke="#333" stroke-width="0.9"/>
<text transform="translate(184.3 486.05) scale(0.95 1)">80</text>
<circle cx="199.3" cy="469.7" r="6.9" fill="#fff" stroke="#333" stroke-width="0.9"/>
<text transform="translate(199.3 473.05) scale(0.95 1)">81</text>
<circle cx="166.2" cy="180.3" r="6.9" fill="#fff" stroke="#333" stroke-width="0.9"/>
<text transform="translate(166.2 183.65) scale(0.95 1)">84</text>
<circle cx="222.8" cy="163.3" r="6.9" fill="#fff" stroke="#333" stroke-width="0.9"/>
<text transform="translate(222.8 166.65) scale(0.95 1)">86</text>
<circle cx="201.2" cy="169.6" r="6.9" fill="#fff" stroke="#333" stroke-width="0.9"/>
<text transform="translate(201.2 172.95) scale(0.95 1)">87</text>
<circle cx="114.3" cy="198" r="6.9" fill="#fff" stroke="#333" stroke-width="0.9"/>
<text transform="translate(114.3 201.35) scale(0.95 1)">88</text>
<circle cx="452.3" cy="460.3" r="6.9" fill="#fff" stroke="#333" stroke-width="0.9"/>
<text transform="translate(452.3 463.65) scale(0.95 1)">89</text>
<circle cx="282" cy="240.7" r="11.2" fill="#5fcb36" style="mix-blend-mode:multiply"/>
<circle cx="282" cy="240.7" r="6.8" fill="none" stroke="#1d3d10" stroke-width="0.9"/>
<text transform="translate(282 244.05) scale(0.95 1)" style="fill:#143008;stroke:#143008">23</text>
<path d="M277.4 235.4L275.8 232.98" stroke="#1a1a1a" stroke-width="0.75" fill="none"/>
<path d="M272.9 228.6L279.04 233.53L276.13 233.48L275.04 236.18Z" fill="#111"/>
</g>
</svg>
</body></html>
